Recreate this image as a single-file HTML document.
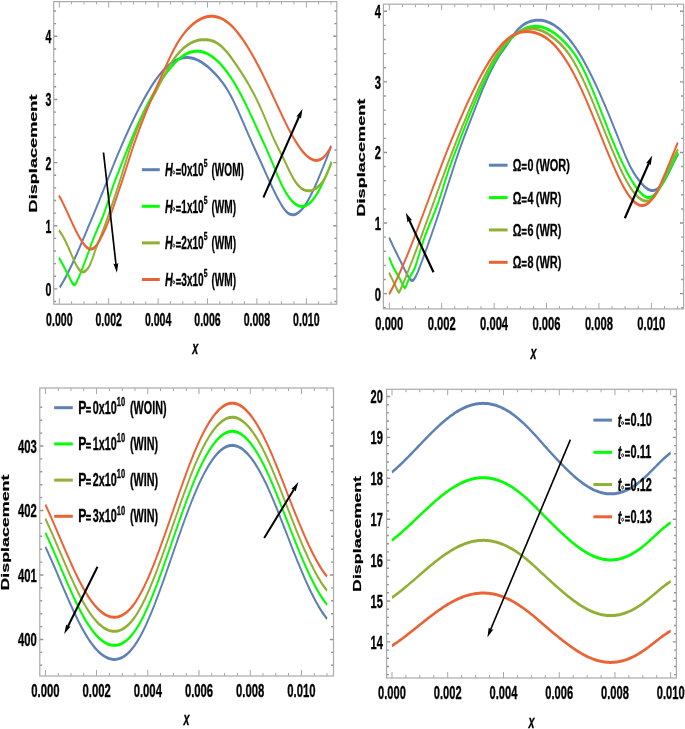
<!DOCTYPE html>
<html><head><meta charset="utf-8"><style>
html,body{margin:0;padding:0;background:#fff;width:685px;height:729px;overflow:hidden}
svg{display:block;will-change:transform;filter:blur(0.35px)}
.t{font-family:"Liberation Sans",sans-serif;font-weight:bold;fill:#000;stroke:#000;stroke-width:0.35px}
</style></head><body>
<svg width="685" height="729" viewBox="0 0 685 729">
<g transform="scale(0.58,1)"><clipPath id="c1"><rect x="92.59" y="1.6" width="488.1" height="302.6"/></clipPath><path d="M102.24,304.2v-6M102.24,1.6v6M187.41,304.2v-6M187.41,1.6v6M272.59,304.2v-6M272.59,1.6v6M357.76,304.2v-6M357.76,1.6v6M442.93,304.2v-6M442.93,1.6v6M528.1,304.2v-6M528.1,1.6v6M123.53,304.2v-3M123.53,1.6v3M144.83,304.2v-3M144.83,1.6v3M166.12,304.2v-3M166.12,1.6v3M208.71,304.2v-3M208.71,1.6v3M230,304.2v-3M230,1.6v3M251.29,304.2v-3M251.29,1.6v3M293.88,304.2v-3M293.88,1.6v3M315.17,304.2v-3M315.17,1.6v3M336.47,304.2v-3M336.47,1.6v3M379.05,304.2v-3M379.05,1.6v3M400.34,304.2v-3M400.34,1.6v3M421.64,304.2v-3M421.64,1.6v3M464.22,304.2v-3M464.22,1.6v3M485.52,304.2v-3M485.52,1.6v3M506.81,304.2v-3M506.81,1.6v3M549.4,304.2v-3M549.4,1.6v3M570.69,304.2v-3M570.69,1.6v3M92.59,288.9h6.21M580.69,288.9h-6.21M92.59,225.75h6.21M580.69,225.75h-6.21M92.59,162.6h6.21M580.69,162.6h-6.21M92.59,99.45h6.21M580.69,99.45h-6.21M92.59,36.3h6.21M580.69,36.3h-6.21M92.59,301.53h4.14M580.69,301.53h-4.14M92.59,276.27h4.14M580.69,276.27h-4.14M92.59,263.64h4.14M580.69,263.64h-4.14M92.59,251.01h4.14M580.69,251.01h-4.14M92.59,238.38h4.14M580.69,238.38h-4.14M92.59,213.12h4.14M580.69,213.12h-4.14M92.59,200.49h4.14M580.69,200.49h-4.14M92.59,187.86h4.14M580.69,187.86h-4.14M92.59,175.23h4.14M580.69,175.23h-4.14M92.59,149.97h4.14M580.69,149.97h-4.14M92.59,137.34h4.14M580.69,137.34h-4.14M92.59,124.71h4.14M580.69,124.71h-4.14M92.59,112.08h4.14M580.69,112.08h-4.14M92.59,86.82h4.14M580.69,86.82h-4.14M92.59,74.19h4.14M580.69,74.19h-4.14M92.59,61.56h4.14M580.69,61.56h-4.14M92.59,48.93h4.14M580.69,48.93h-4.14M92.59,23.67h4.14M580.69,23.67h-4.14M92.59,11.04h4.14M580.69,11.04h-4.14" stroke="#939393" stroke-width="1.4" fill="none"/><g clip-path="url(#c1)"><path d="M102.93,287.33 L104.89,285.53 L106.85,283.65 L108.81,281.71 L110.77,279.7 L112.72,277.62 L114.68,275.48 L116.64,273.28 L118.6,271.03 L120.56,268.72 L122.52,266.37 L124.48,263.97 L126.43,261.53 L128.39,259.05 L130.35,256.54 L132.31,253.99 L134.27,251.41 L136.23,248.81 L138.19,246.19 L140.14,243.54 L142.1,240.88 L144.06,238.21 L146.02,235.52 L147.98,232.83 L149.94,230.14 L151.9,227.44 L153.85,224.73 L155.81,222.01 L157.77,219.28 L159.73,216.55 L161.69,213.81 L163.65,211.07 L165.61,208.31 L167.56,205.55 L169.52,202.77 L171.48,199.99 L173.44,197.2 L175.4,194.4 L177.36,191.59 L179.32,188.76 L181.27,185.93 L183.23,183.09 L185.19,180.24 L187.15,177.39 L189.11,174.54 L191.07,171.69 L193.03,168.85 L194.98,166.02 L196.94,163.22 L198.9,160.43 L200.86,157.66 L202.82,154.92 L204.78,152.21 L206.74,149.52 L208.69,146.86 L210.65,144.23 L212.61,141.62 L214.57,139.04 L216.53,136.49 L218.49,133.96 L220.45,131.46 L222.41,128.99 L224.36,126.55 L226.32,124.13 L228.28,121.74 L230.24,119.38 L232.2,117.05 L234.16,114.74 L236.12,112.47 L238.07,110.22 L240.03,108 L241.99,105.81 L243.95,103.65 L245.91,101.53 L247.87,99.44 L249.83,97.39 L251.78,95.37 L253.74,93.39 L255.7,91.45 L257.66,89.56 L259.62,87.71 L261.58,85.9 L263.54,84.14 L265.49,82.42 L267.45,80.76 L269.41,79.15 L271.37,77.59 L273.33,76.08 L275.29,74.63 L277.25,73.24 L279.2,71.9 L281.16,70.62 L283.12,69.41 L285.08,68.25 L287.04,67.15 L289,66.12 L290.96,65.14 L292.91,64.22 L294.87,63.36 L296.83,62.56 L298.79,61.82 L300.75,61.14 L302.71,60.52 L304.67,59.96 L306.62,59.46 L308.58,59.01 L310.54,58.63 L312.5,58.3 L314.46,58.03 L316.42,57.82 L318.38,57.67 L320.33,57.58 L322.29,57.55 L324.25,57.58 L326.21,57.66 L328.17,57.8 L330.13,58 L332.09,58.26 L334.04,58.57 L336,58.94 L337.96,59.36 L339.92,59.84 L341.88,60.36 L343.84,60.95 L345.8,61.58 L347.76,62.27 L349.71,63 L351.67,63.79 L353.63,64.62 L355.59,65.51 L357.55,66.44 L359.51,67.42 L361.47,68.44 L363.42,69.49 L365.38,70.59 L367.34,71.72 L369.3,72.89 L371.26,74.08 L373.22,75.3 L375.18,76.56 L377.13,77.86 L379.09,79.21 L381.05,80.62 L383.01,82.08 L384.97,83.61 L386.93,85.22 L388.89,86.9 L390.84,88.66 L392.8,90.52 L394.76,92.47 L396.72,94.51 L398.68,96.64 L400.64,98.84 L402.6,101.12 L404.55,103.46 L406.51,105.85 L408.47,108.3 L410.43,110.8 L412.39,113.34 L414.35,115.9 L416.31,118.5 L418.26,121.11 L420.22,123.74 L422.18,126.38 L424.14,129.02 L426.1,131.66 L428.06,134.28 L430.02,136.89 L431.97,139.47 L433.93,142.02 L435.89,144.55 L437.85,147.05 L439.81,149.54 L441.77,152.02 L443.73,154.5 L445.68,156.98 L447.64,159.47 L449.6,161.97 L451.56,164.49 L453.52,167.01 L455.48,169.54 L457.44,172.07 L459.39,174.59 L461.35,177.1 L463.31,179.6 L465.27,182.08 L467.23,184.53 L469.19,186.96 L471.15,189.34 L473.1,191.69 L475.06,193.98 L477.02,196.22 L478.98,198.4 L480.94,200.52 L482.9,202.56 L484.86,204.51 L486.82,206.36 L488.77,208.07 L490.73,209.62 L492.69,210.98 L494.65,212.12 L496.61,213.05 L498.57,213.77 L500.53,214.29 L502.48,214.61 L504.44,214.74 L506.4,214.68 L508.36,214.44 L510.32,214.03 L512.28,213.45 L514.24,212.7 L516.19,211.8 L518.15,210.75 L520.11,209.55 L522.07,208.2 L524.03,206.73 L525.99,205.12 L527.95,203.39 L529.9,201.54 L531.86,199.57 L533.82,197.5 L535.78,195.33 L537.74,193.06 L539.7,190.71 L541.66,188.26 L543.61,185.74 L545.57,183.16 L547.53,180.52 L549.49,177.84 L551.45,175.14 L553.41,172.41 L555.37,169.66 L557.32,166.89 L559.28,164.08 L561.24,161.23 L563.2,158.31 L565.16,155.33 L567.12,152.27 L569.08,149.13 L571.03,145.89" stroke="#5E81B5" stroke-width="3.0" fill="none" stroke-linejoin="round"/><path d="M101.72,257.98 L103.69,259.93 L105.66,261.94 L107.62,263.99 L109.59,266.09 L111.55,268.23 L113.52,270.41 L115.48,272.64 L117.45,274.89 L119.42,277.17 L121.38,279.43 L123.35,281.63 L125.31,283.59 L127.28,284.86 L129.25,284.65 L131.21,283.04 L133.18,280.78 L135.14,278.24 L137.11,275.55 L139.07,272.76 L141.04,269.9 L143.01,266.98 L144.97,264.01 L146.94,261 L148.9,257.94 L150.87,254.85 L152.84,251.72 L154.8,248.56 L156.77,245.41 L158.73,242.3 L160.7,239.26 L162.66,236.32 L164.63,233.53 L166.6,230.86 L168.56,228.26 L170.53,225.71 L172.49,223.13 L174.46,220.5 L176.42,217.76 L178.39,214.87 L180.36,211.77 L182.32,208.48 L184.29,205.05 L186.25,201.52 L188.22,197.95 L190.19,194.38 L192.15,190.87 L194.12,187.47 L196.08,184.23 L198.05,181.14 L200.01,178.17 L201.98,175.25 L203.95,172.34 L205.91,169.43 L207.88,166.52 L209.84,163.62 L211.81,160.71 L213.78,157.82 L215.74,154.94 L217.71,152.07 L219.67,149.22 L221.64,146.38 L223.6,143.57 L225.57,140.78 L227.54,138.03 L229.5,135.3 L231.47,132.6 L233.43,129.94 L235.4,127.32 L237.36,124.74 L239.33,122.21 L241.3,119.72 L243.26,117.27 L245.23,114.86 L247.19,112.49 L249.16,110.17 L251.13,107.88 L253.09,105.64 L255.06,103.44 L257.02,101.27 L258.99,99.15 L260.95,97.06 L262.92,95.01 L264.89,93 L266.85,91.02 L268.82,89.08 L270.78,87.18 L272.75,85.32 L274.72,83.49 L276.68,81.7 L278.65,79.96 L280.61,78.25 L282.58,76.59 L284.54,74.97 L286.51,73.39 L288.48,71.86 L290.44,70.38 L292.41,68.94 L294.37,67.55 L296.34,66.21 L298.3,64.92 L300.27,63.68 L302.24,62.5 L304.2,61.36 L306.17,60.29 L308.13,59.26 L310.1,58.3 L312.07,57.39 L314.03,56.54 L316,55.74 L317.96,55.01 L319.93,54.34 L321.89,53.73 L323.86,53.19 L325.83,52.71 L327.79,52.29 L329.76,51.94 L331.72,51.66 L333.69,51.44 L335.66,51.28 L337.62,51.18 L339.59,51.15 L341.55,51.19 L343.52,51.28 L345.48,51.44 L347.45,51.66 L349.42,51.94 L351.38,52.28 L353.35,52.69 L355.31,53.15 L357.28,53.67 L359.24,54.26 L361.21,54.9 L363.18,55.6 L365.14,56.36 L367.11,57.18 L369.07,58.06 L371.04,59 L373.01,59.99 L374.97,61.04 L376.94,62.15 L378.9,63.32 L380.87,64.54 L382.83,65.81 L384.8,67.14 L386.77,68.53 L388.73,69.97 L390.7,71.47 L392.66,73.02 L394.63,74.62 L396.6,76.28 L398.56,77.99 L400.53,79.75 L402.49,81.57 L404.46,83.44 L406.42,85.36 L408.39,87.33 L410.36,89.35 L412.32,91.42 L414.29,93.54 L416.25,95.71 L418.22,97.92 L420.18,100.17 L422.15,102.46 L424.12,104.78 L426.08,107.13 L428.05,109.51 L430.01,111.91 L431.98,114.34 L433.95,116.79 L435.91,119.25 L437.88,121.73 L439.84,124.22 L441.81,126.72 L443.77,129.22 L445.74,131.72 L447.71,134.23 L449.67,136.73 L451.64,139.22 L453.6,141.71 L455.57,144.19 L457.53,146.68 L459.5,149.2 L461.47,151.73 L463.43,154.31 L465.4,156.93 L467.36,159.61 L469.33,162.35 L471.3,165.14 L473.26,167.95 L475.23,170.77 L477.19,173.56 L479.16,176.31 L481.12,178.98 L483.09,181.55 L485.06,184.01 L487.02,186.35 L488.99,188.56 L490.95,190.65 L492.92,192.62 L494.89,194.46 L496.85,196.18 L498.82,197.77 L500.78,199.23 L502.75,200.55 L504.71,201.75 L506.68,202.81 L508.65,203.74 L510.61,204.53 L512.58,205.19 L514.54,205.7 L516.51,206.08 L518.47,206.32 L520.44,206.41 L522.41,206.36 L524.37,206.16 L526.34,205.82 L528.3,205.33 L530.27,204.69 L532.24,203.9 L534.2,202.96 L536.17,201.87 L538.13,200.63 L540.1,199.26 L542.06,197.74 L544.03,196.1 L546,194.33 L547.96,192.43 L549.93,190.42 L551.89,188.3 L553.86,186.06 L555.83,183.72 L557.79,181.29 L559.76,178.75 L561.72,176.13 L563.69,173.42 L565.65,170.63 L567.62,167.76 L569.59,164.82 L571.55,161.81" stroke="#00FF00" stroke-width="3.0" fill="none" stroke-linejoin="round"/><path d="M101.55,230.49 L103.52,231.88 L105.48,233.49 L107.45,235.3 L109.42,237.3 L111.38,239.46 L113.35,241.76 L115.32,244.18 L117.28,246.69 L119.25,249.27 L121.22,251.9 L123.18,254.53 L125.15,257.14 L127.12,259.7 L129.08,262.16 L131.05,264.46 L133.02,266.56 L134.98,268.4 L136.95,269.9 L138.92,271 L140.88,271.67 L142.85,271.91 L144.82,271.75 L146.78,271.22 L148.75,270.35 L150.71,269.1 L152.68,267.45 L154.65,265.34 L156.61,262.75 L158.58,259.79 L160.55,256.6 L162.51,253.31 L164.48,250.07 L166.45,246.97 L168.41,243.98 L170.38,241.08 L172.35,238.2 L174.31,235.31 L176.28,232.36 L178.25,229.33 L180.21,226.24 L182.18,223.09 L184.15,219.88 L186.11,216.62 L188.08,213.32 L190.05,209.98 L192.01,206.61 L193.98,203.22 L195.95,199.8 L197.91,196.37 L199.88,192.93 L201.84,189.47 L203.81,185.98 L205.78,182.45 L207.74,178.86 L209.71,175.21 L211.68,171.48 L213.64,167.71 L215.61,163.95 L217.58,160.23 L219.54,156.59 L221.51,153.04 L223.48,149.59 L225.44,146.22 L227.41,142.94 L229.38,139.75 L231.34,136.65 L233.31,133.64 L235.28,130.71 L237.24,127.87 L239.21,125.12 L241.18,122.45 L243.14,119.86 L245.11,117.36 L247.07,114.94 L249.04,112.6 L251.01,110.34 L252.97,108.16 L254.94,106.05 L256.91,103.99 L258.87,101.97 L260.84,99.96 L262.81,97.95 L264.77,95.93 L266.74,93.88 L268.71,91.77 L270.67,89.6 L272.64,87.37 L274.61,85.08 L276.57,82.77 L278.54,80.45 L280.51,78.14 L282.47,75.86 L284.44,73.64 L286.41,71.49 L288.37,69.43 L290.34,67.44 L292.3,65.53 L294.27,63.7 L296.24,61.95 L298.2,60.27 L300.17,58.67 L302.14,57.15 L304.1,55.69 L306.07,54.31 L308.04,52.99 L310,51.75 L311.97,50.57 L313.94,49.47 L315.9,48.42 L317.87,47.44 L319.84,46.53 L321.8,45.68 L323.77,44.89 L325.74,44.16 L327.7,43.49 L329.67,42.87 L331.64,42.32 L333.6,41.82 L335.57,41.37 L337.53,40.98 L339.5,40.64 L341.47,40.35 L343.43,40.11 L345.4,39.92 L347.37,39.78 L349.33,39.69 L351.3,39.64 L353.27,39.63 L355.23,39.68 L357.2,39.77 L359.17,39.91 L361.13,40.11 L363.1,40.37 L365.07,40.69 L367.03,41.08 L369,41.53 L370.97,42.05 L372.93,42.65 L374.9,43.33 L376.87,44.08 L378.83,44.92 L380.8,45.85 L382.77,46.86 L384.73,47.96 L386.7,49.14 L388.66,50.39 L390.63,51.71 L392.6,53.09 L394.56,54.53 L396.53,56.02 L398.5,57.55 L400.46,59.13 L402.43,60.74 L404.4,62.38 L406.36,64.04 L408.33,65.72 L410.3,67.41 L412.26,69.12 L414.23,70.86 L416.2,72.61 L418.16,74.39 L420.13,76.2 L422.1,78.04 L424.06,79.91 L426.03,81.82 L428,83.77 L429.96,85.75 L431.93,87.78 L433.89,89.85 L435.86,91.96 L437.83,94.13 L439.79,96.35 L441.76,98.62 L443.73,100.95 L445.69,103.34 L447.66,105.79 L449.63,108.31 L451.59,110.89 L453.56,113.53 L455.53,116.22 L457.49,118.95 L459.46,121.69 L461.43,124.45 L463.39,127.2 L465.36,129.92 L467.33,132.62 L469.29,135.27 L471.26,137.85 L473.23,140.37 L475.19,142.8 L477.16,145.16 L479.12,147.47 L481.09,149.75 L483.06,152.01 L485.02,154.26 L486.99,156.53 L488.96,158.83 L490.92,161.17 L492.89,163.56 L494.86,165.96 L496.82,168.36 L498.79,170.72 L500.76,173.02 L502.72,175.24 L504.69,177.36 L506.66,179.34 L508.62,181.16 L510.59,182.81 L512.56,184.29 L514.52,185.6 L516.49,186.76 L518.46,187.76 L520.42,188.61 L522.39,189.31 L524.36,189.87 L526.32,190.29 L528.29,190.57 L530.25,190.73 L532.22,190.75 L534.19,190.66 L536.15,190.44 L538.12,190.12 L540.09,189.68 L542.05,189.14 L544.02,188.49 L545.99,187.74 L547.95,186.87 L549.92,185.86 L551.89,184.72 L553.85,183.41 L555.82,181.93 L557.79,180.27 L559.75,178.4 L561.72,176.33 L563.69,174.03 L565.65,171.49 L567.62,168.71 L569.59,165.65 L571.55,162.32" stroke="#8FB032" stroke-width="3.0" fill="none" stroke-linejoin="round"/><path d="M101.55,195.49 L103.51,197.49 L105.48,199.6 L107.44,201.81 L109.4,204.12 L111.36,206.49 L113.32,208.92 L115.29,211.4 L117.25,213.9 L119.21,216.42 L121.17,218.93 L123.14,221.42 L125.1,223.88 L127.06,226.28 L129.02,228.62 L130.98,230.9 L132.95,233.11 L134.91,235.23 L136.87,237.27 L138.83,239.21 L140.8,241.03 L142.76,242.73 L144.72,244.27 L146.68,245.64 L148.64,246.82 L150.61,247.78 L152.57,248.5 L154.53,248.95 L156.49,249.12 L158.46,248.97 L160.42,248.52 L162.38,247.76 L164.34,246.69 L166.3,245.35 L168.27,243.77 L170.23,241.96 L172.19,239.98 L174.15,237.84 L176.12,235.59 L178.08,233.25 L180.04,230.82 L182,228.28 L183.96,225.59 L185.93,222.74 L187.89,219.73 L189.85,216.57 L191.81,213.3 L193.78,209.95 L195.74,206.55 L197.7,203.15 L199.66,199.76 L201.62,196.39 L203.59,193.04 L205.55,189.69 L207.51,186.33 L209.47,182.94 L211.43,179.51 L213.4,176.03 L215.36,172.47 L217.32,168.86 L219.28,165.23 L221.25,161.61 L223.21,158.04 L225.17,154.52 L227.13,151.07 L229.09,147.68 L231.06,144.34 L233.02,141.05 L234.98,137.82 L236.94,134.65 L238.91,131.52 L240.87,128.44 L242.83,125.4 L244.79,122.41 L246.75,119.46 L248.72,116.56 L250.68,113.69 L252.64,110.85 L254.6,108.05 L256.57,105.28 L258.53,102.53 L260.49,99.82 L262.45,97.13 L264.41,94.46 L266.38,91.82 L268.34,89.2 L270.3,86.59 L272.26,84 L274.23,81.42 L276.19,78.86 L278.15,76.3 L280.11,73.76 L282.07,71.22 L284.04,68.68 L286,66.16 L287.96,63.65 L289.92,61.18 L291.89,58.74 L293.85,56.35 L295.81,54.01 L297.77,51.74 L299.73,49.53 L301.7,47.4 L303.66,45.36 L305.62,43.4 L307.58,41.53 L309.54,39.74 L311.51,38.03 L313.47,36.39 L315.43,34.84 L317.39,33.35 L319.36,31.94 L321.32,30.6 L323.28,29.33 L325.24,28.12 L327.2,26.98 L329.17,25.91 L331.13,24.89 L333.09,23.93 L335.05,23.03 L337.02,22.19 L338.98,21.4 L340.94,20.66 L342.9,19.98 L344.86,19.36 L346.83,18.79 L348.79,18.27 L350.75,17.82 L352.71,17.42 L354.68,17.07 L356.64,16.79 L358.6,16.56 L360.56,16.4 L362.52,16.29 L364.49,16.24 L366.45,16.25 L368.41,16.33 L370.37,16.46 L372.34,16.66 L374.3,16.92 L376.26,17.24 L378.22,17.63 L380.18,18.08 L382.15,18.6 L384.11,19.17 L386.07,19.82 L388.03,20.53 L389.99,21.31 L391.96,22.15 L393.92,23.06 L395.88,24.03 L397.84,25.06 L399.81,26.16 L401.77,27.31 L403.73,28.53 L405.69,29.8 L407.65,31.13 L409.62,32.51 L411.58,33.95 L413.54,35.44 L415.5,36.98 L417.47,38.57 L419.43,40.21 L421.39,41.9 L423.35,43.63 L425.31,45.41 L427.28,47.24 L429.24,49.1 L431.2,51 L433.16,52.95 L435.13,54.93 L437.09,56.95 L439.05,59.01 L441.01,61.1 L442.97,63.23 L444.94,65.38 L446.9,67.57 L448.86,69.79 L450.82,72.03 L452.79,74.3 L454.75,76.6 L456.71,78.92 L458.67,81.26 L460.63,83.63 L462.6,86.02 L464.56,88.42 L466.52,90.84 L468.48,93.28 L470.45,95.73 L472.41,98.19 L474.37,100.65 L476.33,103.11 L478.29,105.57 L480.26,108.02 L482.22,110.46 L484.18,112.89 L486.14,115.29 L488.1,117.68 L490.07,120.04 L492.03,122.36 L493.99,124.66 L495.95,126.91 L497.92,129.13 L499.88,131.3 L501.84,133.42 L503.8,135.48 L505.76,137.5 L507.73,139.45 L509.69,141.34 L511.65,143.16 L513.61,144.92 L515.58,146.6 L517.54,148.2 L519.5,149.72 L521.46,151.15 L523.42,152.5 L525.39,153.76 L527.35,154.92 L529.31,155.98 L531.27,156.94 L533.24,157.8 L535.2,158.54 L537.16,159.17 L539.12,159.67 L541.08,160.04 L543.05,160.28 L545.01,160.39 L546.97,160.35 L548.93,160.16 L550.9,159.81 L552.86,159.31 L554.82,158.64 L556.78,157.8 L558.74,156.78 L560.71,155.58 L562.67,154.19 L564.63,152.61 L566.59,150.82 L568.56,148.83 L570.52,146.63" stroke="#EB6235" stroke-width="3.0" fill="none" stroke-linejoin="round"/></g><path d="M244.66,169.7H275.52" stroke="#5E81B5" stroke-width="3.0" fill="none"/><path d="M244.66,206.3H275.52" stroke="#00FF00" stroke-width="3.0" fill="none"/><path d="M244.66,242.9H275.52" stroke="#8FB032" stroke-width="3.0" fill="none"/><path d="M244.66,279.5H275.52" stroke="#EB6235" stroke-width="3.0" fill="none"/></g>
<rect x="53.7" y="1.6" width="283.1" height="302.6" stroke="#aaaaaa" stroke-width="1.2" fill="none"/>
<path d="M103.5,152.5L116.07,265.25" stroke="#000" stroke-width="1.7" fill="none"/>
<path d="M116.9,272.7L113.36,263.54L115.98,264.45L118.33,262.98Z" fill="#000"/>
<path d="M263.4,197.5L299.47,115.76" stroke="#000" stroke-width="2.0" fill="none"/>
<path d="M302.5,108.9L300.95,118.6L299.15,116.49L296.38,116.58Z" fill="#000"/>
<text transform="translate(59.3,326) scale(0.58,1)" text-anchor="middle" class="t" style="font-size:18.2px">0.000</text>
<text transform="translate(108.7,326) scale(0.58,1)" text-anchor="middle" class="t" style="font-size:18.2px">0.002</text>
<text transform="translate(158.1,326) scale(0.58,1)" text-anchor="middle" class="t" style="font-size:18.2px">0.004</text>
<text transform="translate(207.5,326) scale(0.58,1)" text-anchor="middle" class="t" style="font-size:18.2px">0.006</text>
<text transform="translate(256.9,326) scale(0.58,1)" text-anchor="middle" class="t" style="font-size:18.2px">0.008</text>
<text transform="translate(306.3,326) scale(0.58,1)" text-anchor="middle" class="t" style="font-size:18.2px">0.010</text>
<text transform="translate(51.4,295.87) scale(0.58,1)" text-anchor="end" class="t" style="font-size:18.2px">0</text>
<text transform="translate(51.4,232.72) scale(0.58,1)" text-anchor="end" class="t" style="font-size:18.2px">1</text>
<text transform="translate(51.4,169.57) scale(0.58,1)" text-anchor="end" class="t" style="font-size:18.2px">2</text>
<text transform="translate(51.4,106.42) scale(0.58,1)" text-anchor="end" class="t" style="font-size:18.2px">3</text>
<text transform="translate(51.4,43.27) scale(0.58,1)" text-anchor="end" class="t" style="font-size:18.2px">4</text>
<text transform="translate(37,153.5) scale(0.6,1) rotate(-90)" text-anchor="middle" class="t" style="font-size:18.15px">Displacement</text>
<text transform="translate(195.2,354) scale(0.58,1)" text-anchor="middle" class="t" style="font-size:18.5px;font-style:italic">x</text>
<text transform="translate(165.08,175.9) scale(0.6,1)" class="t" style="font-size:18px;font-style:italic">H</text>
<text transform="translate(175.63,175.9) scale(0.52,0.7)" class="t" style="font-size:17.6px;stroke-width:0.9px">=</text>
<text transform="translate(181.3,175.9) scale(0.56,1)" class="t" style="font-size:18px;">0x10</text>
<text transform="translate(203.8,167.1) scale(0.62,1)" class="t" style="font-size:11px;">5</text>
<text transform="translate(211.5,175.9) scale(0.56,1)" class="t" style="font-size:18px;">(WOM)</text>
<ellipse cx="173.7" cy="172.4" rx="0.95" ry="1.45" fill="none" stroke="#111" stroke-width="0.95"/>
<text transform="translate(165.08,212.5) scale(0.6,1)" class="t" style="font-size:18px;font-style:italic">H</text>
<text transform="translate(175.63,212.5) scale(0.52,0.7)" class="t" style="font-size:17.6px;stroke-width:0.9px">=</text>
<text transform="translate(181.3,212.5) scale(0.56,1)" class="t" style="font-size:18px;">1x10</text>
<text transform="translate(203.8,203.7) scale(0.62,1)" class="t" style="font-size:11px;">5</text>
<text transform="translate(211.5,212.5) scale(0.56,1)" class="t" style="font-size:18px;">(WM)</text>
<ellipse cx="173.7" cy="209" rx="0.95" ry="1.45" fill="none" stroke="#111" stroke-width="0.95"/>
<text transform="translate(165.08,249.1) scale(0.6,1)" class="t" style="font-size:18px;font-style:italic">H</text>
<text transform="translate(175.63,249.1) scale(0.52,0.7)" class="t" style="font-size:17.6px;stroke-width:0.9px">=</text>
<text transform="translate(181.3,249.1) scale(0.56,1)" class="t" style="font-size:18px;">2x10</text>
<text transform="translate(203.8,240.3) scale(0.62,1)" class="t" style="font-size:11px;">5</text>
<text transform="translate(211.5,249.1) scale(0.56,1)" class="t" style="font-size:18px;">(WM)</text>
<ellipse cx="173.7" cy="245.6" rx="0.95" ry="1.45" fill="none" stroke="#111" stroke-width="0.95"/>
<text transform="translate(165.08,285.7) scale(0.6,1)" class="t" style="font-size:18px;font-style:italic">H</text>
<text transform="translate(175.63,285.7) scale(0.52,0.7)" class="t" style="font-size:17.6px;stroke-width:0.9px">=</text>
<text transform="translate(181.3,285.7) scale(0.56,1)" class="t" style="font-size:18px;">3x10</text>
<text transform="translate(203.8,276.9) scale(0.62,1)" class="t" style="font-size:11px;">5</text>
<text transform="translate(211.5,285.7) scale(0.56,1)" class="t" style="font-size:18px;">(WM)</text>
<ellipse cx="173.7" cy="282.2" rx="0.95" ry="1.45" fill="none" stroke="#111" stroke-width="0.95"/>
<g transform="scale(0.58,1)"><clipPath id="c2"><rect x="661.03" y="4.2" width="517.59" height="304.7"/></clipPath><path d="M671.21,308.9v-6M671.21,4.2v6M761.55,308.9v-6M761.55,4.2v6M851.9,308.9v-6M851.9,4.2v6M942.24,308.9v-6M942.24,4.2v6M1032.59,308.9v-6M1032.59,4.2v6M1122.93,308.9v-6M1122.93,4.2v6M693.79,308.9v-3M693.79,4.2v3M716.38,308.9v-3M716.38,4.2v3M738.97,308.9v-3M738.97,4.2v3M784.14,308.9v-3M784.14,4.2v3M806.72,308.9v-3M806.72,4.2v3M829.31,308.9v-3M829.31,4.2v3M874.48,308.9v-3M874.48,4.2v3M897.07,308.9v-3M897.07,4.2v3M919.66,308.9v-3M919.66,4.2v3M964.83,308.9v-3M964.83,4.2v3M987.41,308.9v-3M987.41,4.2v3M1010,308.9v-3M1010,4.2v3M1055.17,308.9v-3M1055.17,4.2v3M1077.76,308.9v-3M1077.76,4.2v3M1100.34,308.9v-3M1100.34,4.2v3M1145.52,308.9v-3M1145.52,4.2v3M1168.1,308.9v-3M1168.1,4.2v3M661.03,293.65h6.21M1178.62,293.65h-6.21M661.03,223.05h6.21M1178.62,223.05h-6.21M661.03,152.45h6.21M1178.62,152.45h-6.21M661.03,81.85h6.21M1178.62,81.85h-6.21M661.03,11.25h6.21M1178.62,11.25h-6.21M661.03,307.77h4.14M1178.62,307.77h-4.14M661.03,279.53h4.14M1178.62,279.53h-4.14M661.03,265.41h4.14M1178.62,265.41h-4.14M661.03,251.29h4.14M1178.62,251.29h-4.14M661.03,237.17h4.14M1178.62,237.17h-4.14M661.03,208.93h4.14M1178.62,208.93h-4.14M661.03,194.81h4.14M1178.62,194.81h-4.14M661.03,180.69h4.14M1178.62,180.69h-4.14M661.03,166.57h4.14M1178.62,166.57h-4.14M661.03,138.33h4.14M1178.62,138.33h-4.14M661.03,124.21h4.14M1178.62,124.21h-4.14M661.03,110.09h4.14M1178.62,110.09h-4.14M661.03,95.97h4.14M1178.62,95.97h-4.14M661.03,67.73h4.14M1178.62,67.73h-4.14M661.03,53.61h4.14M1178.62,53.61h-4.14M661.03,39.49h4.14M1178.62,39.49h-4.14M661.03,25.37h4.14M1178.62,25.37h-4.14" stroke="#939393" stroke-width="1.4" fill="none"/><g clip-path="url(#c2)"><path d="M671.03,237.65 L673.12,240.39 L675.21,243.05 L677.29,245.63 L679.38,248.16 L681.46,250.64 L683.55,253.09 L685.63,255.52 L687.72,257.95 L689.8,260.37 L691.89,262.8 L693.98,265.23 L696.06,267.68 L698.15,270.12 L700.23,272.53 L702.32,274.86 L704.4,277.02 L706.49,278.84 L708.57,280.09 L710.66,280.52 L712.75,279.98 L714.83,278.53 L716.92,276.38 L719,273.77 L721.09,270.88 L723.17,267.83 L725.26,264.68 L727.34,261.46 L729.43,258.19 L731.52,254.89 L733.6,251.56 L735.69,248.19 L737.77,244.8 L739.86,241.37 L741.94,237.93 L744.03,234.46 L746.11,230.96 L748.2,227.45 L750.29,223.9 L752.37,220.34 L754.46,216.75 L756.54,213.13 L758.63,209.49 L760.71,205.81 L762.8,202.11 L764.88,198.38 L766.97,194.62 L769.06,190.84 L771.14,187.05 L773.23,183.25 L775.31,179.46 L777.4,175.67 L779.48,171.91 L781.57,168.17 L783.65,164.46 L785.74,160.8 L787.83,157.19 L789.91,153.63 L792,150.14 L794.08,146.72 L796.17,143.37 L798.25,140.07 L800.34,136.82 L802.42,133.61 L804.51,130.44 L806.6,127.3 L808.68,124.18 L810.77,121.07 L812.85,117.96 L814.94,114.85 L817.02,111.74 L819.11,108.6 L821.19,105.46 L823.28,102.33 L825.37,99.22 L827.45,96.15 L829.54,93.13 L831.62,90.16 L833.71,87.24 L835.79,84.37 L837.88,81.57 L839.96,78.83 L842.05,76.15 L844.14,73.55 L846.22,71.02 L848.31,68.57 L850.39,66.2 L852.48,63.91 L854.56,61.72 L856.65,59.61 L858.73,57.6 L860.82,55.7 L862.91,53.89 L864.99,52.16 L867.08,50.48 L869.16,48.83 L871.25,47.17 L873.33,45.48 L875.42,43.72 L877.5,41.91 L879.59,40.06 L881.68,38.22 L883.76,36.41 L885.85,34.66 L887.93,33.01 L890.02,31.48 L892.1,30.08 L894.19,28.8 L896.27,27.62 L898.36,26.56 L900.45,25.6 L902.53,24.73 L904.62,23.96 L906.7,23.27 L908.79,22.67 L910.87,22.14 L912.96,21.67 L915.04,21.28 L917.13,20.94 L919.22,20.66 L921.3,20.44 L923.39,20.28 L925.47,20.18 L927.56,20.14 L929.64,20.16 L931.73,20.23 L933.81,20.37 L935.9,20.56 L937.99,20.81 L940.07,21.12 L942.16,21.49 L944.24,21.92 L946.33,22.4 L948.41,22.94 L950.5,23.54 L952.58,24.2 L954.67,24.92 L956.76,25.69 L958.84,26.52 L960.93,27.41 L963.01,28.36 L965.1,29.37 L967.18,30.43 L969.27,31.55 L971.35,32.72 L973.44,33.96 L975.53,35.25 L977.61,36.6 L979.7,38 L981.78,39.46 L983.87,40.98 L985.95,42.56 L988.04,44.19 L990.12,45.88 L992.21,47.63 L994.3,49.43 L996.38,51.29 L998.47,53.2 L1000.55,55.17 L1002.64,57.2 L1004.72,59.28 L1006.81,61.41 L1008.89,63.59 L1010.98,65.82 L1013.07,68.11 L1015.15,70.43 L1017.24,72.81 L1019.32,75.22 L1021.41,77.68 L1023.49,80.19 L1025.58,82.73 L1027.66,85.31 L1029.75,87.93 L1031.84,90.59 L1033.92,93.28 L1036.01,96 L1038.09,98.76 L1040.18,101.54 L1042.26,104.36 L1044.35,107.21 L1046.43,110.08 L1048.52,112.98 L1050.61,115.9 L1052.69,118.84 L1054.78,121.81 L1056.86,124.79 L1058.95,127.8 L1061.03,130.82 L1063.12,133.86 L1065.2,136.91 L1067.29,139.98 L1069.38,143.06 L1071.46,146.12 L1073.55,149.17 L1075.63,152.16 L1077.72,155.1 L1079.8,157.95 L1081.89,160.69 L1083.97,163.32 L1086.06,165.81 L1088.15,168.14 L1090.23,170.32 L1092.32,172.38 L1094.4,174.31 L1096.49,176.14 L1098.57,177.88 L1100.66,179.54 L1102.74,181.13 L1104.83,182.63 L1106.92,184.03 L1109,185.33 L1111.09,186.52 L1113.17,187.57 L1115.26,188.48 L1117.34,189.23 L1119.43,189.83 L1121.51,190.24 L1123.6,190.47 L1125.69,190.51 L1127.77,190.34 L1129.86,189.97 L1131.94,189.4 L1134.03,188.63 L1136.11,187.67 L1138.2,186.5 L1140.28,185.15 L1142.37,183.6 L1144.46,181.85 L1146.54,179.91 L1148.63,177.79 L1150.71,175.52 L1152.8,173.13 L1154.88,170.65 L1156.97,168.13 L1159.05,165.6 L1161.14,163.08 L1163.23,160.62 L1165.31,158.26 L1167.4,156.02 L1169.48,153.94" stroke="#5E81B5" stroke-width="3.0" fill="none" stroke-linejoin="round"/><path d="M671.03,257.3 L673.12,260.74 L675.2,263.72 L677.29,266.33 L679.37,268.66 L681.46,270.81 L683.54,272.86 L685.62,274.9 L687.71,277.01 L689.79,279.26 L691.88,281.69 L693.96,284.29 L696.04,286.75 L698.13,287.93 L700.21,286.15 L702.3,282.82 L704.38,279.75 L706.46,277.23 L708.55,275.09 L710.63,273.09 L712.72,270.97 L714.8,268.45 L716.89,265.3 L718.97,261.6 L721.05,257.55 L723.14,253.37 L725.22,249.26 L727.31,245.37 L729.39,241.7 L731.47,238.22 L733.56,234.91 L735.64,231.73 L737.73,228.65 L739.81,225.66 L741.89,222.71 L743.98,219.78 L746.06,216.84 L748.15,213.87 L750.23,210.83 L752.31,207.7 L754.4,204.44 L756.48,201.03 L758.57,197.44 L760.65,193.7 L762.74,189.86 L764.82,185.96 L766.9,182.06 L768.99,178.2 L771.07,174.44 L773.16,170.81 L775.24,167.29 L777.32,163.89 L779.41,160.56 L781.49,157.3 L783.58,154.08 L785.66,150.89 L787.74,147.72 L789.83,144.55 L791.91,141.39 L794,138.25 L796.08,135.12 L798.17,132 L800.25,128.9 L802.33,125.82 L804.42,122.76 L806.5,119.72 L808.59,116.7 L810.67,113.71 L812.75,110.75 L814.84,107.82 L816.92,104.91 L819.01,102.04 L821.09,99.2 L823.17,96.39 L825.26,93.63 L827.34,90.9 L829.43,88.21 L831.51,85.56 L833.6,82.96 L835.68,80.4 L837.76,77.89 L839.85,75.43 L841.93,73.01 L844.02,70.65 L846.1,68.34 L848.18,66.09 L850.27,63.89 L852.35,61.76 L854.44,59.68 L856.52,57.66 L858.6,55.71 L860.69,53.82 L862.77,52 L864.86,50.24 L866.94,48.54 L869.03,46.91 L871.11,45.34 L873.19,43.84 L875.28,42.4 L877.36,41.02 L879.45,39.71 L881.53,38.46 L883.61,37.27 L885.7,36.14 L887.78,35.08 L889.87,34.08 L891.95,33.14 L894.03,32.26 L896.12,31.44 L898.2,30.69 L900.29,30 L902.37,29.37 L904.46,28.79 L906.54,28.28 L908.62,27.83 L910.71,27.44 L912.79,27.11 L914.88,26.84 L916.96,26.63 L919.04,26.48 L921.13,26.39 L923.21,26.36 L925.3,26.39 L927.38,26.47 L929.46,26.62 L931.55,26.82 L933.63,27.08 L935.72,27.39 L937.8,27.76 L939.89,28.19 L941.97,28.67 L944.05,29.21 L946.14,29.79 L948.22,30.43 L950.31,31.12 L952.39,31.87 L954.47,32.66 L956.56,33.5 L958.64,34.39 L960.73,35.33 L962.81,36.32 L964.89,37.35 L966.98,38.43 L969.06,39.56 L971.15,40.73 L973.23,41.95 L975.32,43.21 L977.4,44.51 L979.48,45.87 L981.57,47.28 L983.65,48.75 L985.74,50.29 L987.82,51.9 L989.9,53.59 L991.99,55.36 L994.07,57.21 L996.16,59.15 L998.24,61.19 L1000.32,63.33 L1002.41,65.57 L1004.49,67.89 L1006.58,70.31 L1008.66,72.81 L1010.75,75.38 L1012.83,78.03 L1014.91,80.74 L1017,83.51 L1019.08,86.34 L1021.17,89.22 L1023.25,92.15 L1025.33,95.12 L1027.42,98.12 L1029.5,101.15 L1031.59,104.21 L1033.67,107.29 L1035.75,110.39 L1037.84,113.49 L1039.92,116.6 L1042.01,119.71 L1044.09,122.82 L1046.18,125.91 L1048.26,128.99 L1050.34,132.05 L1052.43,135.08 L1054.51,138.08 L1056.6,141.05 L1058.68,143.97 L1060.76,146.85 L1062.85,149.69 L1064.93,152.48 L1067.02,155.22 L1069.1,157.9 L1071.18,160.53 L1073.27,163.1 L1075.35,165.61 L1077.44,168.06 L1079.52,170.44 L1081.61,172.75 L1083.69,174.98 L1085.77,177.15 L1087.86,179.23 L1089.94,181.24 L1092.03,183.16 L1094.11,185 L1096.19,186.75 L1098.28,188.41 L1100.36,189.98 L1102.45,191.44 L1104.53,192.79 L1106.61,194.01 L1108.7,195.07 L1110.78,195.96 L1112.87,196.66 L1114.95,197.16 L1117.04,197.43 L1119.12,197.46 L1121.2,197.23 L1123.29,196.77 L1125.37,196.08 L1127.46,195.17 L1129.54,194.06 L1131.62,192.76 L1133.71,191.29 L1135.79,189.66 L1137.88,187.88 L1139.96,185.96 L1142.04,183.92 L1144.13,181.78 L1146.21,179.54 L1148.3,177.22 L1150.38,174.83 L1152.47,172.38 L1154.55,169.9 L1156.63,167.38 L1158.72,164.86 L1160.8,162.33 L1162.89,159.81 L1164.97,157.32 L1167.05,154.87 L1169.14,152.47" stroke="#00FF00" stroke-width="3.0" fill="none" stroke-linejoin="round"/><path d="M670.86,272.72 L672.95,275.15 L675.03,277.62 L677.11,280.15 L679.2,282.72 L681.28,285.33 L683.37,287.96 L685.45,290.58 L687.53,292.52 L689.62,290.72 L691.7,287.99 L693.79,285.15 L695.87,282.25 L697.96,279.31 L700.04,276.33 L702.12,273.32 L704.21,270.27 L706.29,267.2 L708.38,264.1 L710.46,260.97 L712.54,257.81 L714.63,254.63 L716.71,251.43 L718.8,248.21 L720.88,244.97 L722.96,241.72 L725.05,238.44 L727.13,235.15 L729.22,231.85 L731.3,228.54 L733.39,225.22 L735.47,221.89 L737.55,218.55 L739.64,215.21 L741.72,211.86 L743.81,208.51 L745.89,205.16 L747.97,201.81 L750.06,198.46 L752.14,195.11 L754.23,191.77 L756.31,188.44 L758.39,185.11 L760.48,181.8 L762.56,178.49 L764.65,175.2 L766.73,171.92 L768.82,168.65 L770.9,165.41 L772.98,162.18 L775.07,158.97 L777.15,155.78 L779.24,152.61 L781.32,149.47 L783.4,146.36 L785.49,143.27 L787.57,140.2 L789.66,137.15 L791.74,134.13 L793.82,131.13 L795.91,128.16 L797.99,125.2 L800.08,122.26 L802.16,119.35 L804.25,116.45 L806.33,113.57 L808.41,110.71 L810.5,107.87 L812.58,105.04 L814.67,102.24 L816.75,99.46 L818.83,96.71 L820.92,93.99 L823,91.3 L825.09,88.65 L827.17,86.03 L829.25,83.46 L831.34,80.92 L833.42,78.43 L835.51,75.99 L837.59,73.59 L839.68,71.25 L841.76,68.96 L843.84,66.73 L845.93,64.56 L848.01,62.45 L850.1,60.4 L852.18,58.42 L854.26,56.51 L856.35,54.65 L858.43,52.87 L860.52,51.14 L862.6,49.48 L864.68,47.89 L866.77,46.35 L868.85,44.89 L870.94,43.48 L873.02,42.14 L875.11,40.87 L877.19,39.65 L879.27,38.5 L881.36,37.42 L883.44,36.39 L885.53,35.43 L887.61,34.54 L889.69,33.71 L891.78,32.94 L893.86,32.23 L895.95,31.58 L898.03,31 L900.11,30.48 L902.2,30.03 L904.28,29.64 L906.37,29.3 L908.45,29.04 L910.54,28.83 L912.62,28.69 L914.7,28.61 L916.79,28.59 L918.87,28.63 L920.96,28.73 L923.04,28.9 L925.12,29.13 L927.21,29.42 L929.29,29.76 L931.38,30.17 L933.46,30.63 L935.54,31.14 L937.63,31.7 L939.71,32.32 L941.8,32.98 L943.88,33.7 L945.97,34.46 L948.05,35.26 L950.13,36.11 L952.22,37 L954.3,37.92 L956.39,38.89 L958.47,39.9 L960.55,40.94 L962.64,42.03 L964.72,43.17 L966.81,44.36 L968.89,45.61 L970.97,46.93 L973.06,48.31 L975.14,49.76 L977.23,51.29 L979.31,52.9 L981.4,54.59 L983.48,56.37 L985.56,58.25 L987.65,60.21 L989.73,62.25 L991.82,64.37 L993.9,66.56 L995.98,68.83 L998.07,71.17 L1000.15,73.57 L1002.24,76.04 L1004.32,78.56 L1006.4,81.15 L1008.49,83.78 L1010.57,86.46 L1012.66,89.19 L1014.74,91.96 L1016.83,94.77 L1018.91,97.62 L1020.99,100.5 L1023.08,103.41 L1025.16,106.34 L1027.25,109.3 L1029.33,112.28 L1031.41,115.27 L1033.5,118.28 L1035.58,121.3 L1037.67,124.32 L1039.75,127.34 L1041.83,130.37 L1043.92,133.39 L1046,136.4 L1048.09,139.41 L1050.17,142.39 L1052.26,145.37 L1054.34,148.31 L1056.42,151.23 L1058.51,154.12 L1060.59,156.96 L1062.68,159.77 L1064.76,162.52 L1066.84,165.22 L1068.93,167.86 L1071.01,170.44 L1073.1,172.95 L1075.18,175.39 L1077.26,177.75 L1079.35,180.02 L1081.43,182.21 L1083.52,184.3 L1085.6,186.29 L1087.69,188.18 L1089.77,189.97 L1091.85,191.63 L1093.94,193.19 L1096.02,194.61 L1098.11,195.91 L1100.19,197.08 L1102.27,198.1 L1104.36,198.99 L1106.44,199.72 L1108.53,200.3 L1110.61,200.73 L1112.69,200.99 L1114.78,201.08 L1116.86,200.99 L1118.95,200.71 L1121.03,200.22 L1123.11,199.5 L1125.2,198.54 L1127.28,197.34 L1129.37,195.87 L1131.45,194.16 L1133.54,192.25 L1135.62,190.14 L1137.7,187.86 L1139.79,185.44 L1141.87,182.91 L1143.96,180.27 L1146.04,177.57 L1148.12,174.82 L1150.21,172.03 L1152.29,169.25 L1154.38,166.48 L1156.46,163.74 L1158.54,161.06 L1160.63,158.45 L1162.71,155.94 L1164.8,153.55 L1166.88,151.29 L1168.97,149.2" stroke="#8FB032" stroke-width="3.0" fill="none" stroke-linejoin="round"/><path d="M670.86,294.3 L672.94,292.09 L675.03,289.81 L677.11,287.47 L679.19,285.07 L681.28,282.61 L683.36,280.09 L685.44,277.52 L687.52,274.9 L689.61,272.23 L691.69,269.51 L693.77,266.75 L695.85,263.94 L697.94,261.09 L700.02,258.2 L702.1,255.28 L704.18,252.31 L706.27,249.32 L708.35,246.29 L710.43,243.24 L712.52,240.15 L714.6,237.04 L716.68,233.91 L718.76,230.76 L720.85,227.59 L722.93,224.4 L725.01,221.19 L727.09,217.98 L729.18,214.75 L731.26,211.51 L733.34,208.27 L735.42,205.02 L737.51,201.77 L739.59,198.52 L741.67,195.27 L743.76,192.02 L745.84,188.78 L747.92,185.55 L750,182.33 L752.09,179.11 L754.17,175.92 L756.25,172.73 L758.33,169.57 L760.42,166.42 L762.5,163.29 L764.58,160.18 L766.66,157.09 L768.75,154.02 L770.83,150.97 L772.91,147.93 L775,144.92 L777.08,141.93 L779.16,138.97 L781.24,136.02 L783.33,133.1 L785.41,130.2 L787.49,127.33 L789.57,124.48 L791.66,121.65 L793.74,118.85 L795.82,116.08 L797.91,113.33 L799.99,110.61 L802.07,107.91 L804.15,105.25 L806.24,102.61 L808.32,100 L810.4,97.42 L812.48,94.87 L814.57,92.36 L816.65,89.87 L818.73,87.42 L820.81,85.01 L822.9,82.63 L824.98,80.29 L827.06,77.99 L829.15,75.73 L831.23,73.52 L833.31,71.35 L835.39,69.22 L837.48,67.14 L839.56,65.11 L841.64,63.12 L843.72,61.19 L845.81,59.3 L847.89,57.47 L849.97,55.7 L852.05,53.98 L854.14,52.32 L856.22,50.71 L858.3,49.16 L860.39,47.68 L862.47,46.26 L864.55,44.9 L866.63,43.6 L868.72,42.37 L870.8,41.21 L872.88,40.12 L874.96,39.1 L877.05,38.14 L879.13,37.26 L881.21,36.45 L883.29,35.7 L885.38,35.02 L887.46,34.41 L889.54,33.86 L891.63,33.37 L893.71,32.94 L895.79,32.58 L897.87,32.27 L899.96,32.02 L902.04,31.83 L904.12,31.7 L906.2,31.62 L908.29,31.59 L910.37,31.62 L912.45,31.69 L914.53,31.82 L916.62,32 L918.7,32.22 L920.78,32.49 L922.87,32.81 L924.95,33.18 L927.03,33.59 L929.11,34.06 L931.2,34.57 L933.28,35.14 L935.36,35.77 L937.44,36.45 L939.53,37.18 L941.61,37.98 L943.69,38.84 L945.77,39.75 L947.86,40.73 L949.94,41.77 L952.02,42.88 L954.11,44.06 L956.19,45.3 L958.27,46.61 L960.35,47.99 L962.44,49.44 L964.52,50.95 L966.6,52.53 L968.68,54.18 L970.77,55.89 L972.85,57.67 L974.93,59.51 L977.01,61.41 L979.1,63.38 L981.18,65.4 L983.26,67.49 L985.35,69.63 L987.43,71.83 L989.51,74.09 L991.59,76.41 L993.68,78.79 L995.76,81.21 L997.84,83.7 L999.92,86.24 L1002.01,88.82 L1004.09,91.46 L1006.17,94.14 L1008.25,96.87 L1010.34,99.63 L1012.42,102.43 L1014.5,105.26 L1016.59,108.12 L1018.67,111.01 L1020.75,113.92 L1022.83,116.85 L1024.92,119.79 L1027,122.76 L1029.08,125.73 L1031.16,128.71 L1033.25,131.69 L1035.33,134.68 L1037.41,137.66 L1039.5,140.64 L1041.58,143.61 L1043.66,146.57 L1045.74,149.51 L1047.83,152.44 L1049.91,155.34 L1051.99,158.23 L1054.07,161.08 L1056.16,163.9 L1058.24,166.67 L1060.32,169.4 L1062.4,172.08 L1064.49,174.7 L1066.57,177.25 L1068.65,179.73 L1070.74,182.14 L1072.82,184.46 L1074.9,186.69 L1076.98,188.83 L1079.07,190.87 L1081.15,192.81 L1083.23,194.63 L1085.31,196.33 L1087.4,197.91 L1089.48,199.35 L1091.56,200.67 L1093.64,201.84 L1095.73,202.86 L1097.81,203.73 L1099.89,204.44 L1101.98,204.98 L1104.06,205.36 L1106.14,205.55 L1108.22,205.56 L1110.31,205.39 L1112.39,205.01 L1114.47,204.44 L1116.55,203.66 L1118.64,202.67 L1120.72,201.47 L1122.8,200.07 L1124.88,198.48 L1126.97,196.73 L1129.05,194.81 L1131.13,192.73 L1133.22,190.52 L1135.3,188.18 L1137.38,185.73 L1139.46,183.16 L1141.55,180.51 L1143.63,177.77 L1145.71,174.96 L1147.79,172.09 L1149.88,169.18 L1151.96,166.22 L1154.04,163.25 L1156.12,160.26 L1158.21,157.26 L1160.29,154.28 L1162.37,151.32 L1164.46,148.39 L1166.54,145.5 L1168.62,142.67" stroke="#EB6235" stroke-width="3.0" fill="none" stroke-linejoin="round"/></g><path d="M842.93,165.2H875.17" stroke="#5E81B5" stroke-width="3.0" fill="none"/><path d="M842.93,197.57H875.17" stroke="#00FF00" stroke-width="3.0" fill="none"/><path d="M842.93,229.94H875.17" stroke="#8FB032" stroke-width="3.0" fill="none"/><path d="M842.93,262.31H875.17" stroke="#EB6235" stroke-width="3.0" fill="none"/></g>
<rect x="383.4" y="4.2" width="300.2" height="304.7" stroke="#aaaaaa" stroke-width="1.2" fill="none"/>
<path d="M433.5,272.2L408.97,219.6" stroke="#000" stroke-width="2.2" fill="none"/>
<path d="M405.8,212.8L412.08,220.35L409.31,220.32L407.55,222.47Z" fill="#000"/>
<path d="M624.8,218.3L649.2,162.37" stroke="#000" stroke-width="2.2" fill="none"/>
<path d="M652.2,155.5L650.69,165.21L648.88,163.11L646.11,163.21Z" fill="#000"/>
<text transform="translate(389.3,330) scale(0.615,1)" text-anchor="middle" class="t" style="font-size:18.2px">0.000</text>
<text transform="translate(441.7,330) scale(0.615,1)" text-anchor="middle" class="t" style="font-size:18.2px">0.002</text>
<text transform="translate(494.1,330) scale(0.615,1)" text-anchor="middle" class="t" style="font-size:18.2px">0.004</text>
<text transform="translate(546.5,330) scale(0.615,1)" text-anchor="middle" class="t" style="font-size:18.2px">0.006</text>
<text transform="translate(598.9,330) scale(0.615,1)" text-anchor="middle" class="t" style="font-size:18.2px">0.008</text>
<text transform="translate(651.3,330) scale(0.615,1)" text-anchor="middle" class="t" style="font-size:18.2px">0.010</text>
<text transform="translate(380.9,300.62) scale(0.615,1)" text-anchor="end" class="t" style="font-size:18.2px">0</text>
<text transform="translate(380.9,230.02) scale(0.615,1)" text-anchor="end" class="t" style="font-size:18.2px">1</text>
<text transform="translate(380.9,159.42) scale(0.615,1)" text-anchor="end" class="t" style="font-size:18.2px">2</text>
<text transform="translate(380.9,88.82) scale(0.615,1)" text-anchor="end" class="t" style="font-size:18.2px">3</text>
<text transform="translate(380.9,18.22) scale(0.615,1)" text-anchor="end" class="t" style="font-size:18.2px">4</text>
<text transform="translate(365.4,157.6) scale(0.6,1) rotate(-90)" text-anchor="middle" class="t" style="font-size:18.15px">Displacement</text>
<text transform="translate(533.6,359) scale(0.58,1)" text-anchor="middle" class="t" style="font-size:18.5px;font-style:italic">x</text>
<text transform="translate(512.87,171.3) scale(0.62,1)" class="t" style="font-size:17.4px;">Ω</text>
<text transform="translate(521.44,171.3) scale(0.52,0.7)" class="t" style="font-size:17.4px;stroke-width:0.9px">=</text>
<text transform="translate(527.47,171.3) scale(0.62,1)" class="t" style="font-size:17.4px;">0</text>
<text transform="translate(535.75,171.3) scale(0.63,1)" class="t" style="font-size:17.4px;">(WOR)</text>
<text transform="translate(512.87,203.67) scale(0.62,1)" class="t" style="font-size:17.4px;">Ω</text>
<text transform="translate(521.44,203.67) scale(0.52,0.7)" class="t" style="font-size:17.4px;stroke-width:0.9px">=</text>
<text transform="translate(527.47,203.67) scale(0.62,1)" class="t" style="font-size:17.4px;">4</text>
<text transform="translate(535.75,203.67) scale(0.63,1)" class="t" style="font-size:17.4px;">(WR)</text>
<text transform="translate(512.87,236.04) scale(0.62,1)" class="t" style="font-size:17.4px;">Ω</text>
<text transform="translate(521.44,236.04) scale(0.52,0.7)" class="t" style="font-size:17.4px;stroke-width:0.9px">=</text>
<text transform="translate(527.47,236.04) scale(0.62,1)" class="t" style="font-size:17.4px;">6</text>
<text transform="translate(535.75,236.04) scale(0.63,1)" class="t" style="font-size:17.4px;">(WR)</text>
<text transform="translate(512.87,268.41) scale(0.62,1)" class="t" style="font-size:17.4px;">Ω</text>
<text transform="translate(521.44,268.41) scale(0.52,0.7)" class="t" style="font-size:17.4px;stroke-width:0.9px">=</text>
<text transform="translate(527.47,268.41) scale(0.62,1)" class="t" style="font-size:17.4px;">8</text>
<text transform="translate(535.75,268.41) scale(0.63,1)" class="t" style="font-size:17.4px;">(WR)</text>
<g transform="scale(0.58,1)"><clipPath id="c3"><rect x="68.62" y="388" width="506.38" height="288"/></clipPath><path d="M78.28,676v-6M78.28,388v6M166.55,676v-6M166.55,388v6M254.83,676v-6M254.83,388v6M343.1,676v-6M343.1,388v6M431.38,676v-6M431.38,388v6M519.66,676v-6M519.66,388v6M100.34,676v-3M100.34,388v3M122.41,676v-3M122.41,388v3M144.48,676v-3M144.48,388v3M188.62,676v-3M188.62,388v3M210.69,676v-3M210.69,388v3M232.76,676v-3M232.76,388v3M276.9,676v-3M276.9,388v3M298.97,676v-3M298.97,388v3M321.03,676v-3M321.03,388v3M365.17,676v-3M365.17,388v3M387.24,676v-3M387.24,388v3M409.31,676v-3M409.31,388v3M453.45,676v-3M453.45,388v3M475.52,676v-3M475.52,388v3M497.59,676v-3M497.59,388v3M541.72,676v-3M541.72,388v3M563.79,676v-3M563.79,388v3M68.62,639.5h6.21M575,639.5h-6.21M68.62,575h6.21M575,575h-6.21M68.62,510.5h6.21M575,510.5h-6.21M68.62,446h6.21M575,446h-6.21M68.62,665.3h4.14M575,665.3h-4.14M68.62,652.4h4.14M575,652.4h-4.14M68.62,626.6h4.14M575,626.6h-4.14M68.62,613.7h4.14M575,613.7h-4.14M68.62,600.8h4.14M575,600.8h-4.14M68.62,587.9h4.14M575,587.9h-4.14M68.62,562.1h4.14M575,562.1h-4.14M68.62,549.2h4.14M575,549.2h-4.14M68.62,536.3h4.14M575,536.3h-4.14M68.62,523.4h4.14M575,523.4h-4.14M68.62,497.6h4.14M575,497.6h-4.14M68.62,484.7h4.14M575,484.7h-4.14M68.62,471.8h4.14M575,471.8h-4.14M68.62,458.9h4.14M575,458.9h-4.14M68.62,433.1h4.14M575,433.1h-4.14M68.62,420.2h4.14M575,420.2h-4.14M68.62,407.3h4.14M575,407.3h-4.14" stroke="#939393" stroke-width="1.4" fill="none"/><g clip-path="url(#c3)"><path d="M78.28,546.9 L80.31,549.43 L82.34,551.99 L84.37,554.59 L86.4,557.22 L88.43,559.88 L90.46,562.56 L92.5,565.27 L94.53,567.99 L96.56,570.73 L98.59,573.48 L100.62,576.24 L102.65,579 L104.68,581.76 L106.72,584.52 L108.75,587.28 L110.78,590.03 L112.81,592.76 L114.84,595.48 L116.87,598.18 L118.9,600.86 L120.94,603.52 L122.97,606.14 L125,608.73 L127.03,611.29 L129.06,613.81 L131.09,616.28 L133.13,618.72 L135.16,621.1 L137.19,623.43 L139.22,625.7 L141.25,627.91 L143.28,630.06 L145.31,632.15 L147.35,634.17 L149.38,636.11 L151.41,637.99 L153.44,639.79 L155.47,641.51 L157.5,643.16 L159.53,644.74 L161.57,646.24 L163.6,647.66 L165.63,649.01 L167.66,650.28 L169.69,651.47 L171.72,652.58 L173.75,653.61 L175.79,654.55 L177.82,655.42 L179.85,656.2 L181.88,656.9 L183.91,657.51 L185.94,658.04 L187.97,658.49 L190.01,658.84 L192.04,659.11 L194.07,659.29 L196.1,659.38 L198.13,659.39 L200.16,659.3 L202.19,659.12 L204.23,658.85 L206.26,658.49 L208.29,658.03 L210.32,657.48 L212.35,656.83 L214.38,656.09 L216.41,655.25 L218.45,654.32 L220.48,653.28 L222.51,652.15 L224.54,650.92 L226.57,649.59 L228.6,648.15 L230.63,646.62 L232.67,644.98 L234.7,643.24 L236.73,641.4 L238.76,639.45 L240.79,637.41 L242.82,635.27 L244.85,633.04 L246.89,630.73 L248.92,628.33 L250.95,625.85 L252.98,623.29 L255.01,620.66 L257.04,617.96 L259.08,615.18 L261.11,612.35 L263.14,609.45 L265.17,606.5 L267.2,603.49 L269.23,600.43 L271.26,597.33 L273.3,594.18 L275.33,590.99 L277.36,587.76 L279.39,584.49 L281.42,581.2 L283.45,577.88 L285.48,574.54 L287.52,571.17 L289.55,567.79 L291.58,564.39 L293.61,560.99 L295.64,557.57 L297.67,554.16 L299.7,550.74 L301.74,547.32 L303.77,543.92 L305.8,540.52 L307.83,537.13 L309.86,533.77 L311.89,530.42 L313.92,527.09 L315.96,523.8 L317.99,520.53 L320.02,517.3 L322.05,514.1 L324.08,510.95 L326.11,507.83 L328.14,504.77 L330.18,501.75 L332.21,498.79 L334.24,495.89 L336.27,493.05 L338.3,490.27 L340.33,487.56 L342.36,484.92 L344.4,482.36 L346.43,479.87 L348.46,477.45 L350.49,475.12 L352.52,472.86 L354.55,470.68 L356.58,468.59 L358.62,466.57 L360.65,464.64 L362.68,462.8 L364.71,461.04 L366.74,459.36 L368.77,457.78 L370.81,456.28 L372.84,454.88 L374.87,453.56 L376.9,452.34 L378.93,451.22 L380.96,450.18 L382.99,449.25 L385.03,448.41 L387.06,447.67 L389.09,447.03 L391.12,446.5 L393.15,446.06 L395.18,445.73 L397.21,445.5 L399.25,445.38 L401.28,445.36 L403.31,445.45 L405.34,445.65 L407.37,445.95 L409.4,446.35 L411.43,446.85 L413.47,447.45 L415.5,448.16 L417.53,448.95 L419.56,449.85 L421.59,450.83 L423.62,451.92 L425.65,453.09 L427.69,454.35 L429.72,455.7 L431.75,457.14 L433.78,458.66 L435.81,460.27 L437.84,461.96 L439.87,463.73 L441.91,465.59 L443.94,467.52 L445.97,469.52 L448,471.61 L450.03,473.76 L452.06,475.99 L454.09,478.28 L456.13,480.65 L458.16,483.08 L460.19,485.57 L462.22,488.13 L464.25,490.75 L466.28,493.42 L468.31,496.14 L470.35,498.91 L472.38,501.72 L474.41,504.57 L476.44,507.46 L478.47,510.38 L480.5,513.33 L482.53,516.3 L484.57,519.29 L486.6,522.31 L488.63,525.33 L490.66,528.36 L492.69,531.4 L494.72,534.45 L496.76,537.49 L498.79,540.52 L500.82,543.55 L502.85,546.56 L504.88,549.56 L506.91,552.54 L508.94,555.5 L510.98,558.43 L513.01,561.34 L515.04,564.23 L517.07,567.08 L519.1,569.9 L521.13,572.68 L523.16,575.42 L525.2,578.13 L527.23,580.79 L529.26,583.41 L531.29,585.98 L533.32,588.5 L535.35,590.97 L537.38,593.39 L539.42,595.74 L541.45,598.04 L543.48,600.28 L545.51,602.45 L547.54,604.55 L549.57,606.59 L551.6,608.55 L553.64,610.44 L555.67,612.26 L557.7,613.99 L559.73,615.64 L561.76,617.21 L563.79,618.7" stroke="#5E81B5" stroke-width="3.0" fill="none" stroke-linejoin="round"/><path d="M78.28,532.84 L80.31,535.37 L82.34,537.93 L84.37,540.53 L86.4,543.16 L88.43,545.82 L90.46,548.5 L92.5,551.21 L94.53,553.93 L96.56,556.67 L98.59,559.42 L100.62,562.17 L102.65,564.94 L104.68,567.7 L106.72,570.46 L108.75,573.22 L110.78,575.97 L112.81,578.7 L114.84,581.42 L116.87,584.12 L118.9,586.8 L120.94,589.46 L122.97,592.08 L125,594.67 L127.03,597.23 L129.06,599.75 L131.09,602.22 L133.13,604.65 L135.16,607.04 L137.19,609.36 L139.22,611.64 L141.25,613.85 L143.28,616 L145.31,618.09 L147.35,620.11 L149.38,622.05 L151.41,623.92 L153.44,625.72 L155.47,627.45 L157.5,629.1 L159.53,630.68 L161.57,632.18 L163.6,633.6 L165.63,634.95 L167.66,636.22 L169.69,637.41 L171.72,638.52 L173.75,639.54 L175.79,640.49 L177.82,641.36 L179.85,642.14 L181.88,642.84 L183.91,643.45 L185.94,643.98 L187.97,644.42 L190.01,644.78 L192.04,645.05 L194.07,645.23 L196.1,645.32 L198.13,645.33 L200.16,645.24 L202.19,645.06 L204.23,644.79 L206.26,644.43 L208.29,643.97 L210.32,643.42 L212.35,642.77 L214.38,642.03 L216.41,641.19 L218.45,640.26 L220.48,639.22 L222.51,638.09 L224.54,636.86 L226.57,635.53 L228.6,634.09 L230.63,632.56 L232.67,630.92 L234.7,629.18 L236.73,627.34 L238.76,625.39 L240.79,623.35 L242.82,621.21 L244.85,618.98 L246.89,616.67 L248.92,614.27 L250.95,611.79 L252.98,609.23 L255.01,606.6 L257.04,603.89 L259.08,601.12 L261.11,598.29 L263.14,595.39 L265.17,592.44 L267.2,589.43 L269.23,586.37 L271.26,583.27 L273.3,580.12 L275.33,576.92 L277.36,573.7 L279.39,570.43 L281.42,567.14 L283.45,563.82 L285.48,560.47 L287.52,557.11 L289.55,553.73 L291.58,550.33 L293.61,546.92 L295.64,543.51 L297.67,540.09 L299.7,536.68 L301.74,533.26 L303.77,529.85 L305.8,526.46 L307.83,523.07 L309.86,519.71 L311.89,516.36 L313.92,513.03 L315.96,509.74 L317.99,506.47 L320.02,503.24 L322.05,500.04 L324.08,496.88 L326.11,493.77 L328.14,490.71 L330.18,487.69 L332.21,484.73 L334.24,481.83 L336.27,478.99 L338.3,476.21 L340.33,473.5 L342.36,470.86 L344.4,468.3 L346.43,465.81 L348.46,463.39 L350.49,461.06 L352.52,458.8 L354.55,456.62 L356.58,454.52 L358.62,452.51 L360.65,450.58 L362.68,448.73 L364.71,446.97 L366.74,445.3 L368.77,443.72 L370.81,442.22 L372.84,440.82 L374.87,439.5 L376.9,438.28 L378.93,437.15 L380.96,436.12 L382.99,435.19 L385.03,434.35 L387.06,433.61 L389.09,432.97 L391.12,432.43 L393.15,432 L395.18,431.67 L397.21,431.44 L399.25,431.31 L401.28,431.3 L403.31,431.39 L405.34,431.58 L407.37,431.88 L409.4,432.29 L411.43,432.79 L413.47,433.39 L415.5,434.09 L417.53,434.89 L419.56,435.79 L421.59,436.77 L423.62,437.85 L425.65,439.03 L427.69,440.29 L429.72,441.64 L431.75,443.08 L433.78,444.6 L435.81,446.21 L437.84,447.9 L439.87,449.67 L441.91,451.53 L443.94,453.46 L445.97,455.46 L448,457.54 L450.03,459.7 L452.06,461.92 L454.09,464.22 L456.13,466.58 L458.16,469.02 L460.19,471.51 L462.22,474.07 L464.25,476.69 L466.28,479.36 L468.31,482.08 L470.35,484.85 L472.38,487.66 L474.41,490.51 L476.44,493.4 L478.47,496.32 L480.5,499.27 L482.53,502.24 L484.57,505.23 L486.6,508.24 L488.63,511.27 L490.66,514.3 L492.69,517.34 L494.72,520.39 L496.76,523.43 L498.79,526.46 L500.82,529.49 L502.85,532.5 L504.88,535.5 L506.91,538.48 L508.94,541.44 L510.98,544.37 L513.01,547.28 L515.04,550.16 L517.07,553.02 L519.1,555.83 L521.13,558.62 L523.16,561.36 L525.2,564.07 L527.23,566.73 L529.26,569.35 L531.29,571.92 L533.32,574.44 L535.35,576.91 L537.38,579.32 L539.42,581.68 L541.45,583.98 L543.48,586.22 L545.51,588.39 L547.54,590.49 L549.57,592.53 L551.6,594.49 L553.64,596.38 L555.67,598.19 L557.7,599.93 L559.73,601.58 L561.76,603.15 L563.79,604.64" stroke="#00FF00" stroke-width="3.0" fill="none" stroke-linejoin="round"/><path d="M78.28,518.78 L80.31,521.3 L82.34,523.87 L84.37,526.47 L86.4,529.1 L88.43,531.76 L90.46,534.44 L92.5,537.15 L94.53,539.87 L96.56,542.61 L98.59,545.36 L100.62,548.11 L102.65,550.88 L104.68,553.64 L106.72,556.4 L108.75,559.16 L110.78,561.9 L112.81,564.64 L114.84,567.36 L116.87,570.06 L118.9,572.74 L120.94,575.39 L122.97,578.02 L125,580.61 L127.03,583.17 L129.06,585.69 L131.09,588.16 L133.13,590.59 L135.16,592.97 L137.19,595.3 L139.22,597.58 L141.25,599.79 L143.28,601.94 L145.31,604.03 L147.35,606.04 L149.38,607.99 L151.41,609.86 L153.44,611.66 L155.47,613.39 L157.5,615.04 L159.53,616.62 L161.57,618.12 L163.6,619.54 L165.63,620.89 L167.66,622.16 L169.69,623.35 L171.72,624.45 L173.75,625.48 L175.79,626.43 L177.82,627.3 L179.85,628.08 L181.88,628.78 L183.91,629.39 L185.94,629.92 L187.97,630.36 L190.01,630.72 L192.04,630.99 L194.07,631.17 L196.1,631.26 L198.13,631.27 L200.16,631.18 L202.19,631 L204.23,630.73 L206.26,630.36 L208.29,629.91 L210.32,629.36 L212.35,628.71 L214.38,627.97 L216.41,627.13 L218.45,626.19 L220.48,625.16 L222.51,624.03 L224.54,622.8 L226.57,621.46 L228.6,620.03 L230.63,618.5 L232.67,616.86 L234.7,615.12 L236.73,613.28 L238.76,611.33 L240.79,609.29 L242.82,607.15 L244.85,604.92 L246.89,602.61 L248.92,600.21 L250.95,597.73 L252.98,595.17 L255.01,592.54 L257.04,589.83 L259.08,587.06 L261.11,584.23 L263.14,581.33 L265.17,578.38 L267.2,575.37 L269.23,572.31 L271.26,569.21 L273.3,566.05 L275.33,562.86 L277.36,559.64 L279.39,556.37 L281.42,553.08 L283.45,549.76 L285.48,546.41 L287.52,543.05 L289.55,539.67 L291.58,536.27 L293.61,532.86 L295.64,529.45 L297.67,526.03 L299.7,522.62 L301.74,519.2 L303.77,515.79 L305.8,512.4 L307.83,509.01 L309.86,505.64 L311.89,502.3 L313.92,498.97 L315.96,495.68 L317.99,492.41 L320.02,489.18 L322.05,485.98 L324.08,482.82 L326.11,479.71 L328.14,476.65 L330.18,473.63 L332.21,470.67 L334.24,467.77 L336.27,464.93 L338.3,462.15 L340.33,459.44 L342.36,456.8 L344.4,454.23 L346.43,451.74 L348.46,449.33 L350.49,446.99 L352.52,444.74 L354.55,442.56 L356.58,440.46 L358.62,438.45 L360.65,436.52 L362.68,434.67 L364.71,432.91 L366.74,431.24 L368.77,429.66 L370.81,428.16 L372.84,426.75 L374.87,425.44 L376.9,424.22 L378.93,423.09 L380.96,422.06 L382.99,421.13 L385.03,420.29 L387.06,419.55 L389.09,418.91 L391.12,418.37 L393.15,417.94 L395.18,417.6 L397.21,417.38 L399.25,417.25 L401.28,417.24 L403.31,417.33 L405.34,417.52 L407.37,417.82 L409.4,418.23 L411.43,418.73 L413.47,419.33 L415.5,420.03 L417.53,420.83 L419.56,421.73 L421.59,422.71 L423.62,423.79 L425.65,424.97 L427.69,426.23 L429.72,427.58 L431.75,429.02 L433.78,430.54 L435.81,432.15 L437.84,433.84 L439.87,435.61 L441.91,437.46 L443.94,439.39 L445.97,441.4 L448,443.48 L450.03,445.64 L452.06,447.86 L454.09,450.16 L456.13,452.52 L458.16,454.95 L460.19,457.45 L462.22,460.01 L464.25,462.62 L466.28,465.3 L468.31,468.02 L470.35,470.79 L472.38,473.6 L474.41,476.45 L476.44,479.34 L478.47,482.26 L480.5,485.21 L482.53,488.18 L484.57,491.17 L486.6,494.18 L488.63,497.21 L490.66,500.24 L492.69,503.28 L494.72,506.32 L496.76,509.37 L498.79,512.4 L500.82,515.43 L502.85,518.44 L504.88,521.44 L506.91,524.42 L508.94,527.38 L510.98,530.31 L513.01,533.22 L515.04,536.1 L517.07,538.96 L519.1,541.77 L521.13,544.56 L523.16,547.3 L525.2,550.01 L527.23,552.67 L529.26,555.29 L531.29,557.86 L533.32,560.38 L535.35,562.85 L537.38,565.26 L539.42,567.62 L541.45,569.92 L543.48,572.15 L545.51,574.33 L547.54,576.43 L549.57,578.47 L551.6,580.43 L553.64,582.32 L555.67,584.13 L557.7,585.87 L559.73,587.52 L561.76,589.09 L563.79,590.58" stroke="#8FB032" stroke-width="3.0" fill="none" stroke-linejoin="round"/><path d="M78.28,504.72 L80.31,507.24 L82.34,509.81 L84.37,512.41 L86.4,515.04 L88.43,517.7 L90.46,520.38 L92.5,523.08 L94.53,525.81 L96.56,528.55 L98.59,531.29 L100.62,534.05 L102.65,536.81 L104.68,539.58 L106.72,542.34 L108.75,545.1 L110.78,547.84 L112.81,550.58 L114.84,553.3 L116.87,556 L118.9,558.68 L120.94,561.33 L122.97,563.96 L125,566.55 L127.03,569.11 L129.06,571.63 L131.09,574.1 L133.13,576.53 L135.16,578.91 L137.19,581.24 L139.22,583.52 L141.25,585.73 L143.28,587.88 L145.31,589.97 L147.35,591.98 L149.38,593.93 L151.41,595.8 L153.44,597.6 L155.47,599.33 L157.5,600.98 L159.53,602.56 L161.57,604.06 L163.6,605.48 L165.63,606.83 L167.66,608.1 L169.69,609.28 L171.72,610.39 L173.75,611.42 L175.79,612.37 L177.82,613.23 L179.85,614.02 L181.88,614.72 L183.91,615.33 L185.94,615.86 L187.97,616.3 L190.01,616.66 L192.04,616.93 L194.07,617.11 L196.1,617.2 L198.13,617.2 L200.16,617.12 L202.19,616.94 L204.23,616.67 L206.26,616.3 L208.29,615.85 L210.32,615.3 L212.35,614.65 L214.38,613.91 L216.41,613.07 L218.45,612.13 L220.48,611.1 L222.51,609.97 L224.54,608.74 L226.57,607.4 L228.6,605.97 L230.63,604.44 L232.67,602.8 L234.7,601.06 L236.73,599.21 L238.76,597.27 L240.79,595.23 L242.82,593.09 L244.85,590.86 L246.89,588.55 L248.92,586.15 L250.95,583.67 L252.98,581.11 L255.01,578.48 L257.04,575.77 L259.08,573 L261.11,570.17 L263.14,567.27 L265.17,564.32 L267.2,561.31 L269.23,558.25 L271.26,555.14 L273.3,551.99 L275.33,548.8 L277.36,545.57 L279.39,542.31 L281.42,539.02 L283.45,535.7 L285.48,532.35 L287.52,528.99 L289.55,525.61 L291.58,522.21 L293.61,518.8 L295.64,515.39 L297.67,511.97 L299.7,508.55 L301.74,505.14 L303.77,501.73 L305.8,498.34 L307.83,494.95 L309.86,491.58 L311.89,488.24 L313.92,484.91 L315.96,481.61 L317.99,478.35 L320.02,475.11 L322.05,471.92 L324.08,468.76 L326.11,465.65 L328.14,462.59 L330.18,459.57 L332.21,456.61 L334.24,453.71 L336.27,450.87 L338.3,448.09 L340.33,445.38 L342.36,442.74 L344.4,440.17 L346.43,437.68 L348.46,435.27 L350.49,432.93 L352.52,430.68 L354.55,428.5 L356.58,426.4 L358.62,424.39 L360.65,422.46 L362.68,420.61 L364.71,418.85 L366.74,417.18 L368.77,415.59 L370.81,414.1 L372.84,412.69 L374.87,411.38 L376.9,410.16 L378.93,409.03 L380.96,408 L382.99,407.07 L385.03,406.23 L387.06,405.49 L389.09,404.85 L391.12,404.31 L393.15,403.88 L395.18,403.54 L397.21,403.31 L399.25,403.19 L401.28,403.18 L403.31,403.27 L405.34,403.46 L407.37,403.76 L409.4,404.16 L411.43,404.67 L413.47,405.27 L415.5,405.97 L417.53,406.77 L419.56,407.66 L421.59,408.65 L423.62,409.73 L425.65,410.9 L427.69,412.17 L429.72,413.52 L431.75,414.96 L433.78,416.48 L435.81,418.09 L437.84,419.78 L439.87,421.55 L441.91,423.4 L443.94,425.33 L445.97,427.34 L448,429.42 L450.03,431.58 L452.06,433.8 L454.09,436.1 L456.13,438.46 L458.16,440.89 L460.19,443.39 L462.22,445.95 L464.25,448.56 L466.28,451.23 L468.31,453.96 L470.35,456.72 L472.38,459.54 L474.41,462.39 L476.44,465.28 L478.47,468.2 L480.5,471.14 L482.53,474.12 L484.57,477.11 L486.6,480.12 L488.63,483.15 L490.66,486.18 L492.69,489.22 L494.72,492.26 L496.76,495.3 L498.79,498.34 L500.82,501.37 L502.85,504.38 L504.88,507.38 L506.91,510.36 L508.94,513.32 L510.98,516.25 L513.01,519.16 L515.04,522.04 L517.07,524.89 L519.1,527.71 L521.13,530.5 L523.16,533.24 L525.2,535.95 L527.23,538.61 L529.26,541.23 L531.29,543.8 L533.32,546.32 L535.35,548.79 L537.38,551.2 L539.42,553.56 L541.45,555.86 L543.48,558.09 L545.51,560.26 L547.54,562.37 L549.57,564.41 L551.6,566.37 L553.64,568.26 L555.67,570.07 L557.7,571.81 L559.73,573.46 L561.76,575.03 L563.79,576.52" stroke="#EB6235" stroke-width="3.0" fill="none" stroke-linejoin="round"/></g><path d="M93.45,407.7H125.52" stroke="#5E81B5" stroke-width="3.0" fill="none"/><path d="M93.45,443.9H125.52" stroke="#00FF00" stroke-width="3.0" fill="none"/><path d="M93.45,480.1H125.52" stroke="#8FB032" stroke-width="3.0" fill="none"/><path d="M93.45,516.3H125.52" stroke="#EB6235" stroke-width="3.0" fill="none"/></g>
<rect x="39.8" y="388" width="293.7" height="288" stroke="#aaaaaa" stroke-width="1.2" fill="none"/>
<path d="M97.5,566.7L67.53,627.28" stroke="#000" stroke-width="2.0" fill="none"/>
<path d="M64.2,634L66.17,624.38L67.88,626.56L70.65,626.59Z" fill="#000"/>
<path d="M264.2,537.9L294.48,488.49" stroke="#000" stroke-width="2.0" fill="none"/>
<path d="M298.4,482.1L295.57,491.51L294.06,489.18L291.3,488.89Z" fill="#000"/>
<text transform="translate(45.4,697) scale(0.62,1)" text-anchor="middle" class="t" style="font-size:18.2px">0.000</text>
<text transform="translate(96.6,697) scale(0.62,1)" text-anchor="middle" class="t" style="font-size:18.2px">0.002</text>
<text transform="translate(147.8,697) scale(0.62,1)" text-anchor="middle" class="t" style="font-size:18.2px">0.004</text>
<text transform="translate(199,697) scale(0.62,1)" text-anchor="middle" class="t" style="font-size:18.2px">0.006</text>
<text transform="translate(250.2,697) scale(0.62,1)" text-anchor="middle" class="t" style="font-size:18.2px">0.008</text>
<text transform="translate(301.4,697) scale(0.62,1)" text-anchor="middle" class="t" style="font-size:18.2px">0.010</text>
<text transform="translate(36.9,646.47) scale(0.62,1)" text-anchor="end" class="t" style="font-size:18.2px">400</text>
<text transform="translate(36.9,581.97) scale(0.62,1)" text-anchor="end" class="t" style="font-size:18.2px">401</text>
<text transform="translate(36.9,517.47) scale(0.62,1)" text-anchor="end" class="t" style="font-size:18.2px">402</text>
<text transform="translate(36.9,452.97) scale(0.62,1)" text-anchor="end" class="t" style="font-size:18.2px">403</text>
<text transform="translate(8.8,532.6) scale(0.6,1) rotate(-90)" text-anchor="middle" class="t" style="font-size:17.85px">Displacement</text>
<text transform="translate(186.4,725.4) scale(0.58,1)" text-anchor="middle" class="t" style="font-size:18.5px;font-style:italic">x</text>
<text transform="translate(78.24,413.6) scale(0.68,1)" class="t" style="font-size:18px;">P</text>
<text transform="translate(85.83,413.6) scale(0.52,0.7)" class="t" style="font-size:17.6px;stroke-width:0.9px">=</text>
<text transform="translate(92.77,413.6) scale(0.6,1)" class="t" style="font-size:18px;">0x10</text>
<text transform="translate(116.75,406) scale(0.6,1)" class="t" style="font-size:12.5px;">10</text>
<text transform="translate(129.96,413.6) scale(0.6,1)" class="t" style="font-size:18px;">(WOIN)</text>
<text transform="translate(78.24,449.8) scale(0.68,1)" class="t" style="font-size:18px;">P</text>
<text transform="translate(85.83,449.8) scale(0.52,0.7)" class="t" style="font-size:17.6px;stroke-width:0.9px">=</text>
<text transform="translate(92.77,449.8) scale(0.6,1)" class="t" style="font-size:18px;">1x10</text>
<text transform="translate(116.75,442.2) scale(0.6,1)" class="t" style="font-size:12.5px;">10</text>
<text transform="translate(129.96,449.8) scale(0.6,1)" class="t" style="font-size:18px;">(WIN)</text>
<text transform="translate(78.24,486) scale(0.68,1)" class="t" style="font-size:18px;">P</text>
<text transform="translate(85.83,486) scale(0.52,0.7)" class="t" style="font-size:17.6px;stroke-width:0.9px">=</text>
<text transform="translate(92.77,486) scale(0.6,1)" class="t" style="font-size:18px;">2x10</text>
<text transform="translate(116.75,478.4) scale(0.6,1)" class="t" style="font-size:12.5px;">10</text>
<text transform="translate(129.96,486) scale(0.6,1)" class="t" style="font-size:18px;">(WIN)</text>
<text transform="translate(78.24,522.2) scale(0.68,1)" class="t" style="font-size:18px;">P</text>
<text transform="translate(85.83,522.2) scale(0.52,0.7)" class="t" style="font-size:17.6px;stroke-width:0.9px">=</text>
<text transform="translate(92.77,522.2) scale(0.6,1)" class="t" style="font-size:18px;">3x10</text>
<text transform="translate(116.75,514.6) scale(0.6,1)" class="t" style="font-size:12.5px;">10</text>
<text transform="translate(129.96,522.2) scale(0.6,1)" class="t" style="font-size:18px;">(WIN)</text>
<g transform="scale(0.58,1)"><clipPath id="c4"><rect x="666.55" y="389.3" width="499.66" height="288.7"/></clipPath><path d="M675.86,678v-6M675.86,389.3v6M771.97,678v-6M771.97,389.3v6M868.07,678v-6M868.07,389.3v6M964.17,678v-6M964.17,389.3v6M1060.28,678v-6M1060.28,389.3v6M1156.38,678v-6M1156.38,389.3v6M699.89,678v-3M699.89,389.3v3M723.91,678v-3M723.91,389.3v3M747.94,678v-3M747.94,389.3v3M795.99,678v-3M795.99,389.3v3M820.02,678v-3M820.02,389.3v3M844.04,678v-3M844.04,389.3v3M892.09,678v-3M892.09,389.3v3M916.12,678v-3M916.12,389.3v3M940.15,678v-3M940.15,389.3v3M988.2,678v-3M988.2,389.3v3M1012.22,678v-3M1012.22,389.3v3M1036.25,678v-3M1036.25,389.3v3M1084.3,678v-3M1084.3,389.3v3M1108.33,678v-3M1108.33,389.3v3M1132.35,678v-3M1132.35,389.3v3M666.55,641.9h6.21M1166.21,641.9h-6.21M666.55,601h6.21M1166.21,601h-6.21M666.55,560.1h6.21M1166.21,560.1h-6.21M666.55,519.2h6.21M1166.21,519.2h-6.21M666.55,478.3h6.21M1166.21,478.3h-6.21M666.55,437.4h6.21M1166.21,437.4h-6.21M666.55,396.5h6.21M1166.21,396.5h-6.21M666.55,674.62h4.14M1166.21,674.62h-4.14M666.55,666.44h4.14M1166.21,666.44h-4.14M666.55,658.26h4.14M1166.21,658.26h-4.14M666.55,650.08h4.14M1166.21,650.08h-4.14M666.55,633.72h4.14M1166.21,633.72h-4.14M666.55,625.54h4.14M1166.21,625.54h-4.14M666.55,617.36h4.14M1166.21,617.36h-4.14M666.55,609.18h4.14M1166.21,609.18h-4.14M666.55,592.82h4.14M1166.21,592.82h-4.14M666.55,584.64h4.14M1166.21,584.64h-4.14M666.55,576.46h4.14M1166.21,576.46h-4.14M666.55,568.28h4.14M1166.21,568.28h-4.14M666.55,551.92h4.14M1166.21,551.92h-4.14M666.55,543.74h4.14M1166.21,543.74h-4.14M666.55,535.56h4.14M1166.21,535.56h-4.14M666.55,527.38h4.14M1166.21,527.38h-4.14M666.55,511.02h4.14M1166.21,511.02h-4.14M666.55,502.84h4.14M1166.21,502.84h-4.14M666.55,494.66h4.14M1166.21,494.66h-4.14M666.55,486.48h4.14M1166.21,486.48h-4.14M666.55,470.12h4.14M1166.21,470.12h-4.14M666.55,461.94h4.14M1166.21,461.94h-4.14M666.55,453.76h4.14M1166.21,453.76h-4.14M666.55,445.58h4.14M1166.21,445.58h-4.14M666.55,429.22h4.14M1166.21,429.22h-4.14M666.55,421.04h4.14M1166.21,421.04h-4.14M666.55,412.86h4.14M1166.21,412.86h-4.14M666.55,404.68h4.14M1166.21,404.68h-4.14" stroke="#939393" stroke-width="1.4" fill="none"/><g clip-path="url(#c4)"><path d="M675.86,472.22 L677.87,471.21 L679.88,470.19 L681.89,469.16 L683.9,468.1 L685.91,467.03 L687.93,465.94 L689.94,464.84 L691.95,463.72 L693.96,462.59 L695.97,461.45 L697.98,460.3 L699.99,459.14 L702,457.96 L704.01,456.78 L706.02,455.59 L708.03,454.39 L710.04,453.19 L712.05,451.98 L714.06,450.77 L716.07,449.55 L718.08,448.34 L720.09,447.12 L722.1,445.9 L724.11,444.68 L726.13,443.46 L728.14,442.24 L730.15,441.03 L732.16,439.82 L734.17,438.62 L736.18,437.42 L738.19,436.24 L740.2,435.05 L742.21,433.88 L744.22,432.72 L746.23,431.57 L748.24,430.43 L750.25,429.31 L752.26,428.19 L754.27,427.1 L756.28,426.01 L758.29,424.95 L760.3,423.9 L762.31,422.87 L764.33,421.86 L766.34,420.87 L768.35,419.9 L770.36,418.95 L772.37,418.02 L774.38,417.12 L776.39,416.24 L778.4,415.38 L780.41,414.55 L782.42,413.74 L784.43,412.96 L786.44,412.21 L788.45,411.49 L790.46,410.79 L792.47,410.12 L794.48,409.48 L796.49,408.87 L798.5,408.3 L800.52,407.75 L802.53,407.23 L804.54,406.74 L806.55,406.29 L808.56,405.87 L810.57,405.48 L812.58,405.12 L814.59,404.79 L816.6,404.5 L818.61,404.24 L820.62,404.02 L822.63,403.82 L824.64,403.67 L826.65,403.54 L828.66,403.45 L830.67,403.39 L832.68,403.37 L834.69,403.38 L836.7,403.42 L838.72,403.5 L840.73,403.61 L842.74,403.75 L844.75,403.93 L846.76,404.15 L848.77,404.4 L850.78,404.68 L852.79,405 L854.8,405.35 L856.81,405.74 L858.82,406.16 L860.83,406.62 L862.84,407.11 L864.85,407.63 L866.86,408.19 L868.87,408.78 L870.88,409.4 L872.89,410.06 L874.9,410.74 L876.92,411.46 L878.93,412.21 L880.94,413 L882.95,413.81 L884.96,414.65 L886.97,415.52 L888.98,416.42 L890.99,417.35 L893,418.31 L895.01,419.29 L897.02,420.3 L899.03,421.34 L901.04,422.4 L903.05,423.48 L905.06,424.59 L907.07,425.73 L909.08,426.88 L911.09,428.06 L913.1,429.26 L915.12,430.47 L917.13,431.71 L919.14,432.96 L921.15,434.23 L923.16,435.51 L925.17,436.8 L927.18,438.1 L929.19,439.41 L931.2,440.72 L933.21,442.03 L935.22,443.35 L937.23,444.67 L939.24,445.98 L941.25,447.29 L943.26,448.6 L945.27,449.9 L947.28,451.19 L949.29,452.47 L951.31,453.74 L953.32,455.01 L955.33,456.27 L957.34,457.52 L959.35,458.76 L961.36,459.99 L963.37,461.21 L965.38,462.43 L967.39,463.63 L969.4,464.83 L971.41,466.01 L973.42,467.19 L975.43,468.35 L977.44,469.5 L979.45,470.64 L981.46,471.75 L983.47,472.86 L985.48,473.94 L987.49,475 L989.51,476.05 L991.52,477.07 L993.53,478.07 L995.54,479.05 L997.55,480 L999.56,480.93 L1001.57,481.83 L1003.58,482.71 L1005.59,483.56 L1007.6,484.38 L1009.61,485.17 L1011.62,485.93 L1013.63,486.66 L1015.64,487.35 L1017.65,488.02 L1019.66,488.65 L1021.67,489.25 L1023.68,489.82 L1025.69,490.35 L1027.71,490.84 L1029.72,491.3 L1031.73,491.72 L1033.74,492.11 L1035.75,492.46 L1037.76,492.77 L1039.77,493.04 L1041.78,493.28 L1043.79,493.47 L1045.8,493.63 L1047.81,493.75 L1049.82,493.83 L1051.83,493.87 L1053.84,493.87 L1055.85,493.83 L1057.86,493.75 L1059.87,493.64 L1061.88,493.48 L1063.89,493.28 L1065.91,493.04 L1067.92,492.76 L1069.93,492.45 L1071.94,492.09 L1073.95,491.69 L1075.96,491.26 L1077.97,490.79 L1079.98,490.27 L1081.99,489.72 L1084,489.14 L1086.01,488.51 L1088.02,487.85 L1090.03,487.15 L1092.04,486.41 L1094.05,485.64 L1096.06,484.84 L1098.07,484 L1100.08,483.12 L1102.09,482.21 L1104.11,481.27 L1106.12,480.29 L1108.13,479.29 L1110.14,478.25 L1112.15,477.18 L1114.16,476.09 L1116.17,474.97 L1118.18,473.83 L1120.19,472.67 L1122.2,471.5 L1124.21,470.32 L1126.22,469.13 L1128.23,467.94 L1130.24,466.75 L1132.25,465.56 L1134.26,464.37 L1136.27,463.2 L1138.28,462.04 L1140.3,460.9 L1142.31,459.77 L1144.32,458.68 L1146.33,457.6 L1148.34,456.56 L1150.35,455.56 L1152.36,454.59 L1154.37,453.66 L1156.38,452.78" stroke="#5E81B5" stroke-width="3.0" fill="none" stroke-linejoin="round"/><path d="M675.86,540.26 L677.87,539.35 L679.88,538.42 L681.89,537.48 L683.9,536.52 L685.91,535.54 L687.93,534.56 L689.94,533.55 L691.95,532.54 L693.96,531.51 L695.97,530.48 L697.98,529.43 L699.99,528.37 L702,527.31 L704.01,526.24 L706.02,525.15 L708.03,524.07 L710.04,522.97 L712.05,521.88 L714.06,520.78 L716.07,519.67 L718.08,518.56 L720.09,517.46 L722.1,516.35 L724.11,515.24 L726.13,514.13 L728.14,513.03 L730.15,511.93 L732.16,510.83 L734.17,509.74 L736.18,508.65 L738.19,507.57 L740.2,506.5 L742.21,505.44 L744.22,504.38 L746.23,503.34 L748.24,502.3 L750.25,501.28 L752.26,500.27 L754.27,499.27 L756.28,498.29 L758.29,497.32 L760.3,496.37 L762.31,495.43 L764.33,494.52 L766.34,493.61 L768.35,492.73 L770.36,491.87 L772.37,491.03 L774.38,490.21 L776.39,489.41 L778.4,488.63 L780.41,487.87 L782.42,487.14 L784.43,486.44 L786.44,485.75 L788.45,485.09 L790.46,484.46 L792.47,483.85 L794.48,483.27 L796.49,482.72 L798.5,482.19 L800.52,481.7 L802.53,481.23 L804.54,480.78 L806.55,480.37 L808.56,479.99 L810.57,479.63 L812.58,479.31 L814.59,479.01 L816.6,478.75 L818.61,478.51 L820.62,478.31 L822.63,478.13 L824.64,477.99 L826.65,477.87 L828.66,477.79 L830.67,477.74 L832.68,477.72 L834.69,477.72 L836.7,477.76 L838.72,477.83 L840.73,477.94 L842.74,478.07 L844.75,478.23 L846.76,478.43 L848.77,478.65 L850.78,478.91 L852.79,479.2 L854.8,479.52 L856.81,479.87 L858.82,480.26 L860.83,480.67 L862.84,481.12 L864.85,481.59 L866.86,482.1 L868.87,482.63 L870.88,483.2 L872.89,483.79 L874.9,484.42 L876.92,485.07 L878.93,485.75 L880.94,486.46 L882.95,487.2 L884.96,487.97 L886.97,488.76 L888.98,489.58 L890.99,490.42 L893,491.29 L895.01,492.18 L897.02,493.1 L899.03,494.04 L901.04,495 L903.05,495.99 L905.06,497 L907.07,498.03 L909.08,499.08 L911.09,500.15 L913.1,501.23 L915.12,502.34 L917.13,503.46 L919.14,504.6 L921.15,505.75 L923.16,506.91 L925.17,508.09 L927.18,509.27 L929.19,510.45 L931.2,511.64 L933.21,512.84 L935.22,514.04 L937.23,515.23 L939.24,516.43 L941.25,517.62 L943.26,518.8 L945.27,519.98 L947.28,521.16 L949.29,522.32 L951.31,523.48 L953.32,524.63 L955.33,525.77 L957.34,526.9 L959.35,528.03 L961.36,529.15 L963.37,530.26 L965.38,531.36 L967.39,532.46 L969.4,533.54 L971.41,534.62 L973.42,535.69 L975.43,536.75 L977.44,537.79 L979.45,538.82 L981.46,539.84 L983.47,540.84 L985.48,541.82 L987.49,542.79 L989.51,543.74 L991.52,544.66 L993.53,545.57 L995.54,546.46 L997.55,547.33 L999.56,548.17 L1001.57,548.99 L1003.58,549.79 L1005.59,550.56 L1007.6,551.3 L1009.61,552.02 L1011.62,552.71 L1013.63,553.37 L1015.64,554.01 L1017.65,554.61 L1019.66,555.18 L1021.67,555.73 L1023.68,556.24 L1025.69,556.72 L1027.71,557.17 L1029.72,557.59 L1031.73,557.97 L1033.74,558.32 L1035.75,558.64 L1037.76,558.92 L1039.77,559.17 L1041.78,559.39 L1043.79,559.57 L1045.8,559.71 L1047.81,559.82 L1049.82,559.89 L1051.83,559.93 L1053.84,559.93 L1055.85,559.89 L1057.86,559.82 L1059.87,559.71 L1061.88,559.57 L1063.89,559.39 L1065.91,559.17 L1067.92,558.92 L1069.93,558.63 L1071.94,558.31 L1073.95,557.95 L1075.96,557.55 L1077.97,557.12 L1079.98,556.66 L1081.99,556.16 L1084,555.62 L1086.01,555.06 L1088.02,554.45 L1090.03,553.82 L1092.04,553.15 L1094.05,552.45 L1096.06,551.72 L1098.07,550.95 L1100.08,550.16 L1102.09,549.33 L1104.11,548.48 L1106.12,547.59 L1108.13,546.68 L1110.14,545.74 L1112.15,544.77 L1114.16,543.77 L1116.17,542.76 L1118.18,541.72 L1120.19,540.67 L1122.2,539.61 L1124.21,538.53 L1126.22,537.45 L1128.23,536.37 L1130.24,535.29 L1132.25,534.21 L1134.26,533.13 L1136.27,532.07 L1138.28,531.01 L1140.3,529.97 L1142.31,528.95 L1144.32,527.96 L1146.33,526.98 L1148.34,526.04 L1150.35,525.12 L1152.36,524.24 L1154.37,523.4 L1156.38,522.6" stroke="#00FF00" stroke-width="3.0" fill="none" stroke-linejoin="round"/><path d="M675.86,597.58 L677.87,596.75 L679.88,595.9 L681.89,595.04 L683.9,594.16 L685.91,593.27 L687.93,592.37 L689.94,591.45 L691.95,590.52 L693.96,589.59 L695.97,588.64 L697.98,587.68 L699.99,586.71 L702,585.74 L704.01,584.75 L706.02,583.77 L708.03,582.77 L710.04,581.77 L712.05,580.77 L714.06,579.76 L716.07,578.75 L718.08,577.74 L720.09,576.72 L722.1,575.71 L724.11,574.7 L726.13,573.68 L728.14,572.67 L730.15,571.67 L732.16,570.66 L734.17,569.66 L736.18,568.67 L738.19,567.68 L740.2,566.7 L742.21,565.72 L744.22,564.76 L746.23,563.8 L748.24,562.86 L750.25,561.92 L752.26,561 L754.27,560.08 L756.28,559.18 L758.29,558.3 L760.3,557.43 L762.31,556.57 L764.33,555.73 L766.34,554.91 L768.35,554.1 L770.36,553.31 L772.37,552.54 L774.38,551.79 L776.39,551.06 L778.4,550.35 L780.41,549.66 L782.42,548.99 L784.43,548.34 L786.44,547.71 L788.45,547.11 L790.46,546.53 L792.47,545.98 L794.48,545.45 L796.49,544.94 L798.5,544.46 L800.52,544 L802.53,543.57 L804.54,543.17 L806.55,542.79 L808.56,542.44 L810.57,542.11 L812.58,541.82 L814.59,541.55 L816.6,541.3 L818.61,541.09 L820.62,540.9 L822.63,540.74 L824.64,540.61 L826.65,540.51 L828.66,540.43 L830.67,540.38 L832.68,540.36 L834.69,540.37 L836.7,540.41 L838.72,540.47 L840.73,540.56 L842.74,540.68 L844.75,540.83 L846.76,541.01 L848.77,541.22 L850.78,541.45 L852.79,541.72 L854.8,542.01 L856.81,542.33 L858.82,542.69 L860.83,543.06 L862.84,543.47 L864.85,543.91 L866.86,544.37 L868.87,544.86 L870.88,545.38 L872.89,545.92 L874.9,546.49 L876.92,547.09 L878.93,547.71 L880.94,548.36 L882.95,549.04 L884.96,549.74 L886.97,550.46 L888.98,551.21 L890.99,551.98 L893,552.78 L895.01,553.6 L897.02,554.44 L899.03,555.3 L901.04,556.18 L903.05,557.08 L905.06,558 L907.07,558.95 L909.08,559.91 L911.09,560.88 L913.1,561.88 L915.12,562.89 L917.13,563.92 L919.14,564.96 L921.15,566.01 L923.16,567.08 L925.17,568.15 L927.18,569.23 L929.19,570.31 L931.2,571.4 L933.21,572.5 L935.22,573.59 L937.23,574.69 L939.24,575.78 L941.25,576.87 L943.26,577.96 L945.27,579.03 L947.28,580.11 L949.29,581.17 L951.31,582.23 L953.32,583.28 L955.33,584.33 L957.34,585.37 L959.35,586.4 L961.36,587.42 L963.37,588.44 L965.38,589.45 L967.39,590.45 L969.4,591.44 L971.41,592.43 L973.42,593.41 L975.43,594.37 L977.44,595.33 L979.45,596.27 L981.46,597.2 L983.47,598.11 L985.48,599.01 L987.49,599.9 L989.51,600.77 L991.52,601.62 L993.53,602.45 L995.54,603.26 L997.55,604.05 L999.56,604.83 L1001.57,605.58 L1003.58,606.3 L1005.59,607.01 L1007.6,607.69 L1009.61,608.35 L1011.62,608.98 L1013.63,609.58 L1015.64,610.16 L1017.65,610.72 L1019.66,611.24 L1021.67,611.74 L1023.68,612.21 L1025.69,612.65 L1027.71,613.06 L1029.72,613.44 L1031.73,613.8 L1033.74,614.12 L1035.75,614.41 L1037.76,614.67 L1039.77,614.89 L1041.78,615.09 L1043.79,615.25 L1045.8,615.38 L1047.81,615.48 L1049.82,615.55 L1051.83,615.58 L1053.84,615.58 L1055.85,615.55 L1057.86,615.48 L1059.87,615.38 L1061.88,615.25 L1063.89,615.09 L1065.91,614.89 L1067.92,614.66 L1069.93,614.4 L1071.94,614.1 L1073.95,613.77 L1075.96,613.41 L1077.97,613.02 L1079.98,612.59 L1081.99,612.13 L1084,611.65 L1086.01,611.13 L1088.02,610.58 L1090.03,609.99 L1092.04,609.38 L1094.05,608.74 L1096.06,608.07 L1098.07,607.37 L1100.08,606.65 L1102.09,605.89 L1104.11,605.11 L1106.12,604.3 L1108.13,603.46 L1110.14,602.6 L1112.15,601.71 L1114.16,600.8 L1116.17,599.87 L1118.18,598.92 L1120.19,597.96 L1122.2,596.99 L1124.21,596.01 L1126.22,595.02 L1128.23,594.03 L1130.24,593.04 L1132.25,592.05 L1134.26,591.07 L1136.27,590.09 L1138.28,589.13 L1140.3,588.18 L1142.31,587.24 L1144.32,586.33 L1146.33,585.44 L1148.34,584.57 L1150.35,583.74 L1152.36,582.93 L1154.37,582.16 L1156.38,581.43" stroke="#8FB032" stroke-width="3.0" fill="none" stroke-linejoin="round"/><path d="M675.86,645.79 L677.87,645.02 L679.88,644.24 L681.89,643.44 L683.9,642.63 L685.91,641.81 L687.93,640.98 L689.94,640.13 L691.95,639.28 L693.96,638.41 L695.97,637.54 L697.98,636.66 L699.99,635.76 L702,634.87 L704.01,633.96 L706.02,633.05 L708.03,632.13 L710.04,631.21 L712.05,630.28 L714.06,629.35 L716.07,628.42 L718.08,627.49 L720.09,626.56 L722.1,625.62 L724.11,624.69 L726.13,623.75 L728.14,622.82 L730.15,621.89 L732.16,620.97 L734.17,620.05 L736.18,619.13 L738.19,618.22 L740.2,617.31 L742.21,616.42 L744.22,615.53 L746.23,614.64 L748.24,613.77 L750.25,612.91 L752.26,612.06 L754.27,611.22 L756.28,610.39 L758.29,609.57 L760.3,608.77 L762.31,607.98 L764.33,607.2 L766.34,606.45 L768.35,605.7 L770.36,604.97 L772.37,604.26 L774.38,603.57 L776.39,602.9 L778.4,602.24 L780.41,601.6 L782.42,600.99 L784.43,600.39 L786.44,599.81 L788.45,599.26 L790.46,598.72 L792.47,598.21 L794.48,597.72 L796.49,597.26 L798.5,596.81 L800.52,596.39 L802.53,596 L804.54,595.62 L806.55,595.27 L808.56,594.95 L810.57,594.65 L812.58,594.38 L814.59,594.13 L816.6,593.9 L818.61,593.71 L820.62,593.53 L822.63,593.39 L824.64,593.26 L826.65,593.17 L828.66,593.1 L830.67,593.05 L832.68,593.04 L834.69,593.04 L836.7,593.08 L838.72,593.13 L840.73,593.22 L842.74,593.33 L844.75,593.47 L846.76,593.63 L848.77,593.83 L850.78,594.04 L852.79,594.29 L854.8,594.56 L856.81,594.85 L858.82,595.18 L860.83,595.53 L862.84,595.9 L864.85,596.3 L866.86,596.73 L868.87,597.18 L870.88,597.66 L872.89,598.16 L874.9,598.69 L876.92,599.24 L878.93,599.81 L880.94,600.41 L882.95,601.04 L884.96,601.68 L886.97,602.35 L888.98,603.04 L890.99,603.75 L893,604.48 L895.01,605.24 L897.02,606.01 L899.03,606.8 L901.04,607.62 L903.05,608.45 L905.06,609.3 L907.07,610.17 L909.08,611.05 L911.09,611.95 L913.1,612.87 L915.12,613.8 L917.13,614.75 L919.14,615.71 L921.15,616.68 L923.16,617.66 L925.17,618.65 L927.18,619.65 L929.19,620.65 L931.2,621.65 L933.21,622.66 L935.22,623.67 L937.23,624.68 L939.24,625.69 L941.25,626.69 L943.26,627.69 L945.27,628.69 L947.28,629.68 L949.29,630.66 L951.31,631.63 L953.32,632.6 L955.33,633.57 L957.34,634.52 L959.35,635.47 L961.36,636.42 L963.37,637.35 L965.38,638.28 L967.39,639.21 L969.4,640.13 L971.41,641.03 L973.42,641.94 L975.43,642.83 L977.44,643.71 L979.45,644.58 L981.46,645.43 L983.47,646.28 L985.48,647.11 L987.49,647.92 L989.51,648.72 L991.52,649.5 L993.53,650.27 L995.54,651.02 L997.55,651.75 L999.56,652.46 L1001.57,653.15 L1003.58,653.82 L1005.59,654.47 L1007.6,655.1 L1009.61,655.71 L1011.62,656.29 L1013.63,656.85 L1015.64,657.38 L1017.65,657.89 L1019.66,658.38 L1021.67,658.84 L1023.68,659.27 L1025.69,659.68 L1027.71,660.06 L1029.72,660.41 L1031.73,660.73 L1033.74,661.03 L1035.75,661.29 L1037.76,661.53 L1039.77,661.74 L1041.78,661.92 L1043.79,662.07 L1045.8,662.19 L1047.81,662.29 L1049.82,662.35 L1051.83,662.38 L1053.84,662.38 L1055.85,662.35 L1057.86,662.29 L1059.87,662.2 L1061.88,662.08 L1063.89,661.92 L1065.91,661.74 L1067.92,661.53 L1069.93,661.29 L1071.94,661.01 L1073.95,660.71 L1075.96,660.38 L1077.97,660.01 L1079.98,659.62 L1081.99,659.2 L1084,658.75 L1086.01,658.27 L1088.02,657.76 L1090.03,657.23 L1092.04,656.66 L1094.05,656.07 L1096.06,655.46 L1098.07,654.81 L1100.08,654.14 L1102.09,653.44 L1104.11,652.72 L1106.12,651.98 L1108.13,651.2 L1110.14,650.41 L1112.15,649.59 L1114.16,648.75 L1116.17,647.9 L1118.18,647.02 L1120.19,646.14 L1122.2,645.24 L1124.21,644.33 L1126.22,643.42 L1128.23,642.51 L1130.24,641.6 L1132.25,640.68 L1134.26,639.78 L1136.27,638.88 L1138.28,637.99 L1140.3,637.11 L1142.31,636.25 L1144.32,635.41 L1146.33,634.59 L1148.34,633.79 L1150.35,633.02 L1152.36,632.28 L1154.37,631.57 L1156.38,630.89" stroke="#EB6235" stroke-width="3.0" fill="none" stroke-linejoin="round"/></g><path d="M1023.1,420.1H1055.34" stroke="#5E81B5" stroke-width="3.0" fill="none"/><path d="M1023.1,452.33H1055.34" stroke="#00FF00" stroke-width="3.0" fill="none"/><path d="M1023.1,484.56H1055.34" stroke="#8FB032" stroke-width="3.0" fill="none"/><path d="M1023.1,516.79H1055.34" stroke="#EB6235" stroke-width="3.0" fill="none"/></g>
<rect x="386.6" y="389.3" width="289.8" height="288.7" stroke="#aaaaaa" stroke-width="1.2" fill="none"/>
<path d="M570.4,439.6L490.3,630.29" stroke="#000" stroke-width="1.6" fill="none"/>
<path d="M487.4,637.2L488.77,627.47L490.61,629.55L493.38,629.41Z" fill="#000"/>
<text transform="translate(392,699.1) scale(0.61,1)" text-anchor="middle" class="t" style="font-size:18.2px">0.000</text>
<text transform="translate(447.74,699.1) scale(0.61,1)" text-anchor="middle" class="t" style="font-size:18.2px">0.002</text>
<text transform="translate(503.48,699.1) scale(0.61,1)" text-anchor="middle" class="t" style="font-size:18.2px">0.004</text>
<text transform="translate(559.22,699.1) scale(0.61,1)" text-anchor="middle" class="t" style="font-size:18.2px">0.006</text>
<text transform="translate(614.96,699.1) scale(0.61,1)" text-anchor="middle" class="t" style="font-size:18.2px">0.008</text>
<text transform="translate(670.7,699.1) scale(0.61,1)" text-anchor="middle" class="t" style="font-size:18.2px">0.010</text>
<text transform="translate(382.9,648.87) scale(0.61,1)" text-anchor="end" class="t" style="font-size:18.2px">14</text>
<text transform="translate(382.9,607.97) scale(0.61,1)" text-anchor="end" class="t" style="font-size:18.2px">15</text>
<text transform="translate(382.9,567.07) scale(0.61,1)" text-anchor="end" class="t" style="font-size:18.2px">16</text>
<text transform="translate(382.9,526.17) scale(0.61,1)" text-anchor="end" class="t" style="font-size:18.2px">17</text>
<text transform="translate(382.9,485.27) scale(0.61,1)" text-anchor="end" class="t" style="font-size:18.2px">18</text>
<text transform="translate(382.9,444.37) scale(0.61,1)" text-anchor="end" class="t" style="font-size:18.2px">19</text>
<text transform="translate(382.9,403.47) scale(0.61,1)" text-anchor="end" class="t" style="font-size:18.2px">20</text>
<text transform="translate(361.2,534) scale(0.6,1) rotate(-90)" text-anchor="middle" class="t" style="font-size:17.85px">Displacement</text>
<text transform="translate(531.4,727.7) scale(0.58,1)" text-anchor="middle" class="t" style="font-size:18.5px;font-style:italic">x</text>
<text transform="translate(617.76,426.9) scale(0.62,1)" class="t" style="font-size:17.7px;font-style:italic">t</text>
<text transform="translate(624.73,426.1) scale(0.52,0.7)" class="t" style="font-size:17.7px;stroke-width:0.9px">=</text>
<text transform="translate(630.56,426.1) scale(0.62,1)" class="t" style="font-size:17.7px;">0.10</text>
<ellipse cx="622.6" cy="423" rx="0.95" ry="1.45" fill="none" stroke="#111" stroke-width="0.95"/>
<text transform="translate(617.76,459.13) scale(0.62,1)" class="t" style="font-size:17.7px;font-style:italic">t</text>
<text transform="translate(624.73,458.33) scale(0.52,0.7)" class="t" style="font-size:17.7px;stroke-width:0.9px">=</text>
<text transform="translate(630.56,458.33) scale(0.62,1)" class="t" style="font-size:17.7px;">0.11</text>
<ellipse cx="622.6" cy="455.23" rx="0.95" ry="1.45" fill="none" stroke="#111" stroke-width="0.95"/>
<text transform="translate(617.76,491.36) scale(0.62,1)" class="t" style="font-size:17.7px;font-style:italic">t</text>
<text transform="translate(624.73,490.56) scale(0.52,0.7)" class="t" style="font-size:17.7px;stroke-width:0.9px">=</text>
<text transform="translate(630.56,490.56) scale(0.62,1)" class="t" style="font-size:17.7px;">0.12</text>
<ellipse cx="622.6" cy="487.46" rx="0.95" ry="1.45" fill="none" stroke="#111" stroke-width="0.95"/>
<text transform="translate(617.76,523.59) scale(0.62,1)" class="t" style="font-size:17.7px;font-style:italic">t</text>
<text transform="translate(624.73,522.79) scale(0.52,0.7)" class="t" style="font-size:17.7px;stroke-width:0.9px">=</text>
<text transform="translate(630.56,522.79) scale(0.62,1)" class="t" style="font-size:17.7px;">0.13</text>
<ellipse cx="622.6" cy="519.69" rx="0.95" ry="1.45" fill="none" stroke="#111" stroke-width="0.95"/>
</svg>
</body></html>
